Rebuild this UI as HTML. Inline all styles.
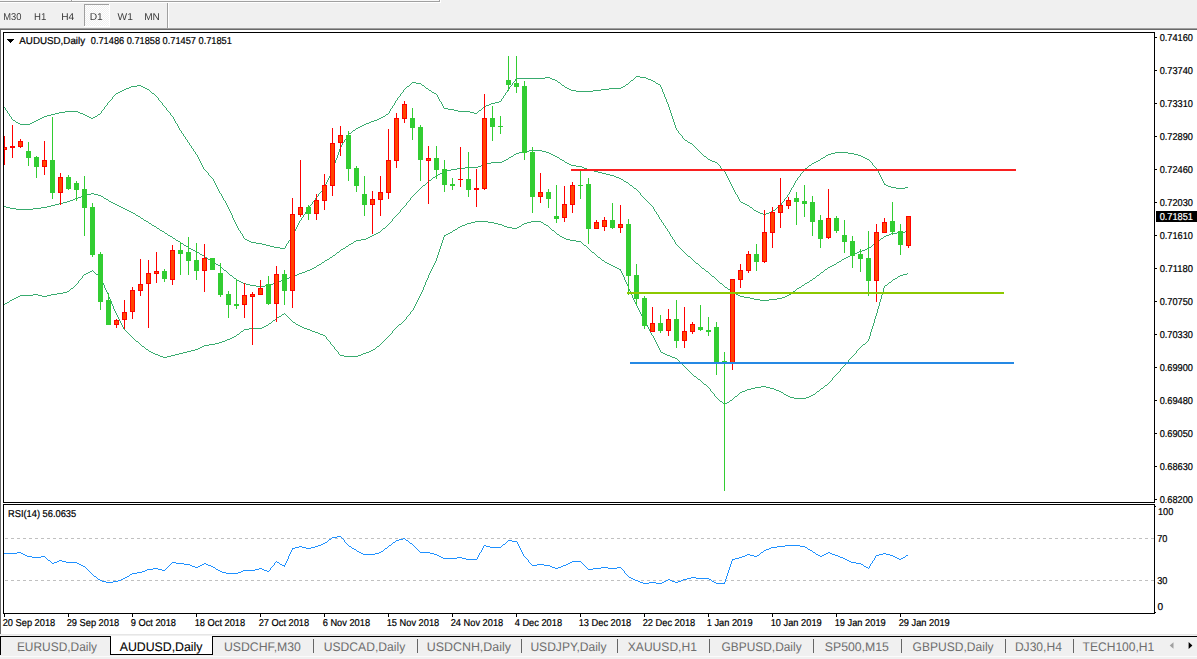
<!DOCTYPE html>
<html><head><meta charset="utf-8"><title>AUDUSD,Daily</title>
<style>html,body{margin:0;padding:0;background:#fff;overflow:hidden}body{width:1197px;height:659px;font-family:"Liberation Sans",sans-serif}svg{display:block;position:absolute;left:0;top:0}svg text{font-family:"Liberation Sans",sans-serif;text-rendering:geometricPrecision;stroke-width:0.22px;paint-order:stroke}</style></head><body>
<svg width="1197" height="659" viewBox="0 0 1197 659">
<g shape-rendering="crispEdges">
<rect x="0" y="0" width="1197" height="659" fill="#ffffff"/>
<rect x="0" y="0" width="1197" height="28" fill="#f0f0f0"/>
<rect x="0" y="28" width="1197" height="1" fill="#a0a0a0"/>
<rect x="0" y="29" width="1197" height="1" fill="#696969"/>
<rect x="0" y="30" width="1" height="605" fill="#696969"/>
<rect x="0" y="0" width="440" height="1" fill="#f8f8f8"/>
<rect x="0" y="1" width="440" height="1" fill="#a0a0a0"/>
<rect x="0" y="2" width="441" height="1" fill="#ffffff"/>
<rect x="71" y="0" width="1" height="1" fill="#a0a0a0"/>
<rect x="72" y="0" width="1" height="1" fill="#ffffff"/>
<rect x="439" y="0" width="1" height="2" fill="#a0a0a0"/>
<rect x="440" y="0" width="1" height="3" fill="#ffffff"/>
<pattern id="chk" x="0" y="0" width="2" height="2" patternUnits="userSpaceOnUse"><rect width="2" height="2" fill="#f0f0f0"/><rect width="1" height="1" fill="#fff"/><rect x="1" y="1" width="1" height="1" fill="#fff"/></pattern>
<rect x="85" y="5" width="24" height="21" fill="url(#chk)"/>
<rect x="84" y="4" width="25" height="1" fill="#a0a0a0"/>
<rect x="84" y="4" width="1" height="22" fill="#a0a0a0"/>
<rect x="109" y="4" width="1" height="23" fill="#ffffff"/>
<rect x="84" y="26" width="26" height="1" fill="#ffffff"/>
<rect x="167" y="3" width="1" height="25" fill="#a0a0a0"/>
<rect x="168" y="3" width="1" height="25" fill="#ffffff"/>
<rect x="3" y="32" width="1152" height="1" fill="#000"/>
<rect x="3" y="32" width="1" height="471" fill="#000"/>
<rect x="3" y="502" width="1152" height="1" fill="#000"/>
<rect x="1154" y="32" width="1" height="471" fill="#000"/>
<rect x="3" y="504" width="1152" height="1" fill="#000"/>
<rect x="3" y="504" width="1" height="110" fill="#000"/>
<rect x="3" y="613" width="1152" height="1" fill="#000"/>
<rect x="1154" y="504" width="1" height="110" fill="#000"/>
<rect x="1155" y="37" width="2" height="1" fill="#000"/>
<rect x="1155" y="70" width="2" height="1" fill="#000"/>
<rect x="1155" y="103" width="2" height="1" fill="#000"/>
<rect x="1155" y="136" width="2" height="1" fill="#000"/>
<rect x="1155" y="169" width="2" height="1" fill="#000"/>
<rect x="1155" y="202" width="2" height="1" fill="#000"/>
<rect x="1155" y="235" width="2" height="1" fill="#000"/>
<rect x="1155" y="268" width="2" height="1" fill="#000"/>
<rect x="1155" y="301" width="2" height="1" fill="#000"/>
<rect x="1155" y="334" width="2" height="1" fill="#000"/>
<rect x="1155" y="367" width="2" height="1" fill="#000"/>
<rect x="1155" y="400" width="2" height="1" fill="#000"/>
<rect x="1155" y="433" width="2" height="1" fill="#000"/>
<rect x="1155" y="466" width="2" height="1" fill="#000"/>
<rect x="1155" y="499" width="2" height="1" fill="#000"/>
<rect x="1155" y="506" width="1" height="1" fill="#000"/>
<rect x="1155" y="612" width="1" height="1" fill="#000"/>
<rect x="4" y="614" width="1" height="3" fill="#000"/>
<rect x="68" y="614" width="1" height="3" fill="#000"/>
<rect x="132" y="614" width="1" height="3" fill="#000"/>
<rect x="196" y="614" width="1" height="3" fill="#000"/>
<rect x="260" y="614" width="1" height="3" fill="#000"/>
<rect x="324" y="614" width="1" height="3" fill="#000"/>
<rect x="388" y="614" width="1" height="3" fill="#000"/>
<rect x="452" y="614" width="1" height="3" fill="#000"/>
<rect x="516" y="614" width="1" height="3" fill="#000"/>
<rect x="580" y="614" width="1" height="3" fill="#000"/>
<rect x="644" y="614" width="1" height="3" fill="#000"/>
<rect x="708" y="614" width="1" height="3" fill="#000"/>
<rect x="772" y="614" width="1" height="3" fill="#000"/>
<rect x="836" y="614" width="1" height="3" fill="#000"/>
<rect x="900" y="614" width="1" height="3" fill="#000"/>
<rect x="5" y="538" width="3" height="1" fill="#c0c0c0"/>
<rect x="11" y="538" width="3" height="1" fill="#c0c0c0"/>
<rect x="17" y="538" width="3" height="1" fill="#c0c0c0"/>
<rect x="23" y="538" width="3" height="1" fill="#c0c0c0"/>
<rect x="29" y="538" width="3" height="1" fill="#c0c0c0"/>
<rect x="35" y="538" width="3" height="1" fill="#c0c0c0"/>
<rect x="41" y="538" width="3" height="1" fill="#c0c0c0"/>
<rect x="47" y="538" width="3" height="1" fill="#c0c0c0"/>
<rect x="53" y="538" width="3" height="1" fill="#c0c0c0"/>
<rect x="59" y="538" width="3" height="1" fill="#c0c0c0"/>
<rect x="65" y="538" width="3" height="1" fill="#c0c0c0"/>
<rect x="71" y="538" width="3" height="1" fill="#c0c0c0"/>
<rect x="77" y="538" width="3" height="1" fill="#c0c0c0"/>
<rect x="83" y="538" width="3" height="1" fill="#c0c0c0"/>
<rect x="89" y="538" width="3" height="1" fill="#c0c0c0"/>
<rect x="95" y="538" width="3" height="1" fill="#c0c0c0"/>
<rect x="101" y="538" width="3" height="1" fill="#c0c0c0"/>
<rect x="107" y="538" width="3" height="1" fill="#c0c0c0"/>
<rect x="113" y="538" width="3" height="1" fill="#c0c0c0"/>
<rect x="119" y="538" width="3" height="1" fill="#c0c0c0"/>
<rect x="125" y="538" width="3" height="1" fill="#c0c0c0"/>
<rect x="131" y="538" width="3" height="1" fill="#c0c0c0"/>
<rect x="137" y="538" width="3" height="1" fill="#c0c0c0"/>
<rect x="143" y="538" width="3" height="1" fill="#c0c0c0"/>
<rect x="149" y="538" width="3" height="1" fill="#c0c0c0"/>
<rect x="155" y="538" width="3" height="1" fill="#c0c0c0"/>
<rect x="161" y="538" width="3" height="1" fill="#c0c0c0"/>
<rect x="167" y="538" width="3" height="1" fill="#c0c0c0"/>
<rect x="173" y="538" width="3" height="1" fill="#c0c0c0"/>
<rect x="179" y="538" width="3" height="1" fill="#c0c0c0"/>
<rect x="185" y="538" width="3" height="1" fill="#c0c0c0"/>
<rect x="191" y="538" width="3" height="1" fill="#c0c0c0"/>
<rect x="197" y="538" width="3" height="1" fill="#c0c0c0"/>
<rect x="203" y="538" width="3" height="1" fill="#c0c0c0"/>
<rect x="209" y="538" width="3" height="1" fill="#c0c0c0"/>
<rect x="215" y="538" width="3" height="1" fill="#c0c0c0"/>
<rect x="221" y="538" width="3" height="1" fill="#c0c0c0"/>
<rect x="227" y="538" width="3" height="1" fill="#c0c0c0"/>
<rect x="233" y="538" width="3" height="1" fill="#c0c0c0"/>
<rect x="239" y="538" width="3" height="1" fill="#c0c0c0"/>
<rect x="245" y="538" width="3" height="1" fill="#c0c0c0"/>
<rect x="251" y="538" width="3" height="1" fill="#c0c0c0"/>
<rect x="257" y="538" width="3" height="1" fill="#c0c0c0"/>
<rect x="263" y="538" width="3" height="1" fill="#c0c0c0"/>
<rect x="269" y="538" width="3" height="1" fill="#c0c0c0"/>
<rect x="275" y="538" width="3" height="1" fill="#c0c0c0"/>
<rect x="281" y="538" width="3" height="1" fill="#c0c0c0"/>
<rect x="287" y="538" width="3" height="1" fill="#c0c0c0"/>
<rect x="293" y="538" width="3" height="1" fill="#c0c0c0"/>
<rect x="299" y="538" width="3" height="1" fill="#c0c0c0"/>
<rect x="305" y="538" width="3" height="1" fill="#c0c0c0"/>
<rect x="311" y="538" width="3" height="1" fill="#c0c0c0"/>
<rect x="317" y="538" width="3" height="1" fill="#c0c0c0"/>
<rect x="323" y="538" width="3" height="1" fill="#c0c0c0"/>
<rect x="329" y="538" width="3" height="1" fill="#c0c0c0"/>
<rect x="335" y="538" width="3" height="1" fill="#c0c0c0"/>
<rect x="341" y="538" width="3" height="1" fill="#c0c0c0"/>
<rect x="347" y="538" width="3" height="1" fill="#c0c0c0"/>
<rect x="353" y="538" width="3" height="1" fill="#c0c0c0"/>
<rect x="359" y="538" width="3" height="1" fill="#c0c0c0"/>
<rect x="365" y="538" width="3" height="1" fill="#c0c0c0"/>
<rect x="371" y="538" width="3" height="1" fill="#c0c0c0"/>
<rect x="377" y="538" width="3" height="1" fill="#c0c0c0"/>
<rect x="383" y="538" width="3" height="1" fill="#c0c0c0"/>
<rect x="389" y="538" width="3" height="1" fill="#c0c0c0"/>
<rect x="395" y="538" width="3" height="1" fill="#c0c0c0"/>
<rect x="401" y="538" width="3" height="1" fill="#c0c0c0"/>
<rect x="407" y="538" width="3" height="1" fill="#c0c0c0"/>
<rect x="413" y="538" width="3" height="1" fill="#c0c0c0"/>
<rect x="419" y="538" width="3" height="1" fill="#c0c0c0"/>
<rect x="425" y="538" width="3" height="1" fill="#c0c0c0"/>
<rect x="431" y="538" width="3" height="1" fill="#c0c0c0"/>
<rect x="437" y="538" width="3" height="1" fill="#c0c0c0"/>
<rect x="443" y="538" width="3" height="1" fill="#c0c0c0"/>
<rect x="449" y="538" width="3" height="1" fill="#c0c0c0"/>
<rect x="455" y="538" width="3" height="1" fill="#c0c0c0"/>
<rect x="461" y="538" width="3" height="1" fill="#c0c0c0"/>
<rect x="467" y="538" width="3" height="1" fill="#c0c0c0"/>
<rect x="473" y="538" width="3" height="1" fill="#c0c0c0"/>
<rect x="479" y="538" width="3" height="1" fill="#c0c0c0"/>
<rect x="485" y="538" width="3" height="1" fill="#c0c0c0"/>
<rect x="491" y="538" width="3" height="1" fill="#c0c0c0"/>
<rect x="497" y="538" width="3" height="1" fill="#c0c0c0"/>
<rect x="503" y="538" width="3" height="1" fill="#c0c0c0"/>
<rect x="509" y="538" width="3" height="1" fill="#c0c0c0"/>
<rect x="515" y="538" width="3" height="1" fill="#c0c0c0"/>
<rect x="521" y="538" width="3" height="1" fill="#c0c0c0"/>
<rect x="527" y="538" width="3" height="1" fill="#c0c0c0"/>
<rect x="533" y="538" width="3" height="1" fill="#c0c0c0"/>
<rect x="539" y="538" width="3" height="1" fill="#c0c0c0"/>
<rect x="545" y="538" width="3" height="1" fill="#c0c0c0"/>
<rect x="551" y="538" width="3" height="1" fill="#c0c0c0"/>
<rect x="557" y="538" width="3" height="1" fill="#c0c0c0"/>
<rect x="563" y="538" width="3" height="1" fill="#c0c0c0"/>
<rect x="569" y="538" width="3" height="1" fill="#c0c0c0"/>
<rect x="575" y="538" width="3" height="1" fill="#c0c0c0"/>
<rect x="581" y="538" width="3" height="1" fill="#c0c0c0"/>
<rect x="587" y="538" width="3" height="1" fill="#c0c0c0"/>
<rect x="593" y="538" width="3" height="1" fill="#c0c0c0"/>
<rect x="599" y="538" width="3" height="1" fill="#c0c0c0"/>
<rect x="605" y="538" width="3" height="1" fill="#c0c0c0"/>
<rect x="611" y="538" width="3" height="1" fill="#c0c0c0"/>
<rect x="617" y="538" width="3" height="1" fill="#c0c0c0"/>
<rect x="623" y="538" width="3" height="1" fill="#c0c0c0"/>
<rect x="629" y="538" width="3" height="1" fill="#c0c0c0"/>
<rect x="635" y="538" width="3" height="1" fill="#c0c0c0"/>
<rect x="641" y="538" width="3" height="1" fill="#c0c0c0"/>
<rect x="647" y="538" width="3" height="1" fill="#c0c0c0"/>
<rect x="653" y="538" width="3" height="1" fill="#c0c0c0"/>
<rect x="659" y="538" width="3" height="1" fill="#c0c0c0"/>
<rect x="665" y="538" width="3" height="1" fill="#c0c0c0"/>
<rect x="671" y="538" width="3" height="1" fill="#c0c0c0"/>
<rect x="677" y="538" width="3" height="1" fill="#c0c0c0"/>
<rect x="683" y="538" width="3" height="1" fill="#c0c0c0"/>
<rect x="689" y="538" width="3" height="1" fill="#c0c0c0"/>
<rect x="695" y="538" width="3" height="1" fill="#c0c0c0"/>
<rect x="701" y="538" width="3" height="1" fill="#c0c0c0"/>
<rect x="707" y="538" width="3" height="1" fill="#c0c0c0"/>
<rect x="713" y="538" width="3" height="1" fill="#c0c0c0"/>
<rect x="719" y="538" width="3" height="1" fill="#c0c0c0"/>
<rect x="725" y="538" width="3" height="1" fill="#c0c0c0"/>
<rect x="731" y="538" width="3" height="1" fill="#c0c0c0"/>
<rect x="737" y="538" width="3" height="1" fill="#c0c0c0"/>
<rect x="743" y="538" width="3" height="1" fill="#c0c0c0"/>
<rect x="749" y="538" width="3" height="1" fill="#c0c0c0"/>
<rect x="755" y="538" width="3" height="1" fill="#c0c0c0"/>
<rect x="761" y="538" width="3" height="1" fill="#c0c0c0"/>
<rect x="767" y="538" width="3" height="1" fill="#c0c0c0"/>
<rect x="773" y="538" width="3" height="1" fill="#c0c0c0"/>
<rect x="779" y="538" width="3" height="1" fill="#c0c0c0"/>
<rect x="785" y="538" width="3" height="1" fill="#c0c0c0"/>
<rect x="791" y="538" width="3" height="1" fill="#c0c0c0"/>
<rect x="797" y="538" width="3" height="1" fill="#c0c0c0"/>
<rect x="803" y="538" width="3" height="1" fill="#c0c0c0"/>
<rect x="809" y="538" width="3" height="1" fill="#c0c0c0"/>
<rect x="815" y="538" width="3" height="1" fill="#c0c0c0"/>
<rect x="821" y="538" width="3" height="1" fill="#c0c0c0"/>
<rect x="827" y="538" width="3" height="1" fill="#c0c0c0"/>
<rect x="833" y="538" width="3" height="1" fill="#c0c0c0"/>
<rect x="839" y="538" width="3" height="1" fill="#c0c0c0"/>
<rect x="845" y="538" width="3" height="1" fill="#c0c0c0"/>
<rect x="851" y="538" width="3" height="1" fill="#c0c0c0"/>
<rect x="857" y="538" width="3" height="1" fill="#c0c0c0"/>
<rect x="863" y="538" width="3" height="1" fill="#c0c0c0"/>
<rect x="869" y="538" width="3" height="1" fill="#c0c0c0"/>
<rect x="875" y="538" width="3" height="1" fill="#c0c0c0"/>
<rect x="881" y="538" width="3" height="1" fill="#c0c0c0"/>
<rect x="887" y="538" width="3" height="1" fill="#c0c0c0"/>
<rect x="893" y="538" width="3" height="1" fill="#c0c0c0"/>
<rect x="899" y="538" width="3" height="1" fill="#c0c0c0"/>
<rect x="905" y="538" width="3" height="1" fill="#c0c0c0"/>
<rect x="911" y="538" width="3" height="1" fill="#c0c0c0"/>
<rect x="917" y="538" width="3" height="1" fill="#c0c0c0"/>
<rect x="923" y="538" width="3" height="1" fill="#c0c0c0"/>
<rect x="929" y="538" width="3" height="1" fill="#c0c0c0"/>
<rect x="935" y="538" width="3" height="1" fill="#c0c0c0"/>
<rect x="941" y="538" width="3" height="1" fill="#c0c0c0"/>
<rect x="947" y="538" width="3" height="1" fill="#c0c0c0"/>
<rect x="953" y="538" width="3" height="1" fill="#c0c0c0"/>
<rect x="959" y="538" width="3" height="1" fill="#c0c0c0"/>
<rect x="965" y="538" width="3" height="1" fill="#c0c0c0"/>
<rect x="971" y="538" width="3" height="1" fill="#c0c0c0"/>
<rect x="977" y="538" width="3" height="1" fill="#c0c0c0"/>
<rect x="983" y="538" width="3" height="1" fill="#c0c0c0"/>
<rect x="989" y="538" width="3" height="1" fill="#c0c0c0"/>
<rect x="995" y="538" width="3" height="1" fill="#c0c0c0"/>
<rect x="1001" y="538" width="3" height="1" fill="#c0c0c0"/>
<rect x="1007" y="538" width="3" height="1" fill="#c0c0c0"/>
<rect x="1013" y="538" width="3" height="1" fill="#c0c0c0"/>
<rect x="1019" y="538" width="3" height="1" fill="#c0c0c0"/>
<rect x="1025" y="538" width="3" height="1" fill="#c0c0c0"/>
<rect x="1031" y="538" width="3" height="1" fill="#c0c0c0"/>
<rect x="1037" y="538" width="3" height="1" fill="#c0c0c0"/>
<rect x="1043" y="538" width="3" height="1" fill="#c0c0c0"/>
<rect x="1049" y="538" width="3" height="1" fill="#c0c0c0"/>
<rect x="1055" y="538" width="3" height="1" fill="#c0c0c0"/>
<rect x="1061" y="538" width="3" height="1" fill="#c0c0c0"/>
<rect x="1067" y="538" width="3" height="1" fill="#c0c0c0"/>
<rect x="1073" y="538" width="3" height="1" fill="#c0c0c0"/>
<rect x="1079" y="538" width="3" height="1" fill="#c0c0c0"/>
<rect x="1085" y="538" width="3" height="1" fill="#c0c0c0"/>
<rect x="1091" y="538" width="3" height="1" fill="#c0c0c0"/>
<rect x="1097" y="538" width="3" height="1" fill="#c0c0c0"/>
<rect x="1103" y="538" width="3" height="1" fill="#c0c0c0"/>
<rect x="1109" y="538" width="3" height="1" fill="#c0c0c0"/>
<rect x="1115" y="538" width="3" height="1" fill="#c0c0c0"/>
<rect x="1121" y="538" width="3" height="1" fill="#c0c0c0"/>
<rect x="1127" y="538" width="3" height="1" fill="#c0c0c0"/>
<rect x="1133" y="538" width="3" height="1" fill="#c0c0c0"/>
<rect x="1139" y="538" width="3" height="1" fill="#c0c0c0"/>
<rect x="1145" y="538" width="3" height="1" fill="#c0c0c0"/>
<rect x="1151" y="538" width="3" height="1" fill="#c0c0c0"/>
<rect x="5" y="580" width="3" height="1" fill="#c0c0c0"/>
<rect x="11" y="580" width="3" height="1" fill="#c0c0c0"/>
<rect x="17" y="580" width="3" height="1" fill="#c0c0c0"/>
<rect x="23" y="580" width="3" height="1" fill="#c0c0c0"/>
<rect x="29" y="580" width="3" height="1" fill="#c0c0c0"/>
<rect x="35" y="580" width="3" height="1" fill="#c0c0c0"/>
<rect x="41" y="580" width="3" height="1" fill="#c0c0c0"/>
<rect x="47" y="580" width="3" height="1" fill="#c0c0c0"/>
<rect x="53" y="580" width="3" height="1" fill="#c0c0c0"/>
<rect x="59" y="580" width="3" height="1" fill="#c0c0c0"/>
<rect x="65" y="580" width="3" height="1" fill="#c0c0c0"/>
<rect x="71" y="580" width="3" height="1" fill="#c0c0c0"/>
<rect x="77" y="580" width="3" height="1" fill="#c0c0c0"/>
<rect x="83" y="580" width="3" height="1" fill="#c0c0c0"/>
<rect x="89" y="580" width="3" height="1" fill="#c0c0c0"/>
<rect x="95" y="580" width="3" height="1" fill="#c0c0c0"/>
<rect x="101" y="580" width="3" height="1" fill="#c0c0c0"/>
<rect x="107" y="580" width="3" height="1" fill="#c0c0c0"/>
<rect x="113" y="580" width="3" height="1" fill="#c0c0c0"/>
<rect x="119" y="580" width="3" height="1" fill="#c0c0c0"/>
<rect x="125" y="580" width="3" height="1" fill="#c0c0c0"/>
<rect x="131" y="580" width="3" height="1" fill="#c0c0c0"/>
<rect x="137" y="580" width="3" height="1" fill="#c0c0c0"/>
<rect x="143" y="580" width="3" height="1" fill="#c0c0c0"/>
<rect x="149" y="580" width="3" height="1" fill="#c0c0c0"/>
<rect x="155" y="580" width="3" height="1" fill="#c0c0c0"/>
<rect x="161" y="580" width="3" height="1" fill="#c0c0c0"/>
<rect x="167" y="580" width="3" height="1" fill="#c0c0c0"/>
<rect x="173" y="580" width="3" height="1" fill="#c0c0c0"/>
<rect x="179" y="580" width="3" height="1" fill="#c0c0c0"/>
<rect x="185" y="580" width="3" height="1" fill="#c0c0c0"/>
<rect x="191" y="580" width="3" height="1" fill="#c0c0c0"/>
<rect x="197" y="580" width="3" height="1" fill="#c0c0c0"/>
<rect x="203" y="580" width="3" height="1" fill="#c0c0c0"/>
<rect x="209" y="580" width="3" height="1" fill="#c0c0c0"/>
<rect x="215" y="580" width="3" height="1" fill="#c0c0c0"/>
<rect x="221" y="580" width="3" height="1" fill="#c0c0c0"/>
<rect x="227" y="580" width="3" height="1" fill="#c0c0c0"/>
<rect x="233" y="580" width="3" height="1" fill="#c0c0c0"/>
<rect x="239" y="580" width="3" height="1" fill="#c0c0c0"/>
<rect x="245" y="580" width="3" height="1" fill="#c0c0c0"/>
<rect x="251" y="580" width="3" height="1" fill="#c0c0c0"/>
<rect x="257" y="580" width="3" height="1" fill="#c0c0c0"/>
<rect x="263" y="580" width="3" height="1" fill="#c0c0c0"/>
<rect x="269" y="580" width="3" height="1" fill="#c0c0c0"/>
<rect x="275" y="580" width="3" height="1" fill="#c0c0c0"/>
<rect x="281" y="580" width="3" height="1" fill="#c0c0c0"/>
<rect x="287" y="580" width="3" height="1" fill="#c0c0c0"/>
<rect x="293" y="580" width="3" height="1" fill="#c0c0c0"/>
<rect x="299" y="580" width="3" height="1" fill="#c0c0c0"/>
<rect x="305" y="580" width="3" height="1" fill="#c0c0c0"/>
<rect x="311" y="580" width="3" height="1" fill="#c0c0c0"/>
<rect x="317" y="580" width="3" height="1" fill="#c0c0c0"/>
<rect x="323" y="580" width="3" height="1" fill="#c0c0c0"/>
<rect x="329" y="580" width="3" height="1" fill="#c0c0c0"/>
<rect x="335" y="580" width="3" height="1" fill="#c0c0c0"/>
<rect x="341" y="580" width="3" height="1" fill="#c0c0c0"/>
<rect x="347" y="580" width="3" height="1" fill="#c0c0c0"/>
<rect x="353" y="580" width="3" height="1" fill="#c0c0c0"/>
<rect x="359" y="580" width="3" height="1" fill="#c0c0c0"/>
<rect x="365" y="580" width="3" height="1" fill="#c0c0c0"/>
<rect x="371" y="580" width="3" height="1" fill="#c0c0c0"/>
<rect x="377" y="580" width="3" height="1" fill="#c0c0c0"/>
<rect x="383" y="580" width="3" height="1" fill="#c0c0c0"/>
<rect x="389" y="580" width="3" height="1" fill="#c0c0c0"/>
<rect x="395" y="580" width="3" height="1" fill="#c0c0c0"/>
<rect x="401" y="580" width="3" height="1" fill="#c0c0c0"/>
<rect x="407" y="580" width="3" height="1" fill="#c0c0c0"/>
<rect x="413" y="580" width="3" height="1" fill="#c0c0c0"/>
<rect x="419" y="580" width="3" height="1" fill="#c0c0c0"/>
<rect x="425" y="580" width="3" height="1" fill="#c0c0c0"/>
<rect x="431" y="580" width="3" height="1" fill="#c0c0c0"/>
<rect x="437" y="580" width="3" height="1" fill="#c0c0c0"/>
<rect x="443" y="580" width="3" height="1" fill="#c0c0c0"/>
<rect x="449" y="580" width="3" height="1" fill="#c0c0c0"/>
<rect x="455" y="580" width="3" height="1" fill="#c0c0c0"/>
<rect x="461" y="580" width="3" height="1" fill="#c0c0c0"/>
<rect x="467" y="580" width="3" height="1" fill="#c0c0c0"/>
<rect x="473" y="580" width="3" height="1" fill="#c0c0c0"/>
<rect x="479" y="580" width="3" height="1" fill="#c0c0c0"/>
<rect x="485" y="580" width="3" height="1" fill="#c0c0c0"/>
<rect x="491" y="580" width="3" height="1" fill="#c0c0c0"/>
<rect x="497" y="580" width="3" height="1" fill="#c0c0c0"/>
<rect x="503" y="580" width="3" height="1" fill="#c0c0c0"/>
<rect x="509" y="580" width="3" height="1" fill="#c0c0c0"/>
<rect x="515" y="580" width="3" height="1" fill="#c0c0c0"/>
<rect x="521" y="580" width="3" height="1" fill="#c0c0c0"/>
<rect x="527" y="580" width="3" height="1" fill="#c0c0c0"/>
<rect x="533" y="580" width="3" height="1" fill="#c0c0c0"/>
<rect x="539" y="580" width="3" height="1" fill="#c0c0c0"/>
<rect x="545" y="580" width="3" height="1" fill="#c0c0c0"/>
<rect x="551" y="580" width="3" height="1" fill="#c0c0c0"/>
<rect x="557" y="580" width="3" height="1" fill="#c0c0c0"/>
<rect x="563" y="580" width="3" height="1" fill="#c0c0c0"/>
<rect x="569" y="580" width="3" height="1" fill="#c0c0c0"/>
<rect x="575" y="580" width="3" height="1" fill="#c0c0c0"/>
<rect x="581" y="580" width="3" height="1" fill="#c0c0c0"/>
<rect x="587" y="580" width="3" height="1" fill="#c0c0c0"/>
<rect x="593" y="580" width="3" height="1" fill="#c0c0c0"/>
<rect x="599" y="580" width="3" height="1" fill="#c0c0c0"/>
<rect x="605" y="580" width="3" height="1" fill="#c0c0c0"/>
<rect x="611" y="580" width="3" height="1" fill="#c0c0c0"/>
<rect x="617" y="580" width="3" height="1" fill="#c0c0c0"/>
<rect x="623" y="580" width="3" height="1" fill="#c0c0c0"/>
<rect x="629" y="580" width="3" height="1" fill="#c0c0c0"/>
<rect x="635" y="580" width="3" height="1" fill="#c0c0c0"/>
<rect x="641" y="580" width="3" height="1" fill="#c0c0c0"/>
<rect x="647" y="580" width="3" height="1" fill="#c0c0c0"/>
<rect x="653" y="580" width="3" height="1" fill="#c0c0c0"/>
<rect x="659" y="580" width="3" height="1" fill="#c0c0c0"/>
<rect x="665" y="580" width="3" height="1" fill="#c0c0c0"/>
<rect x="671" y="580" width="3" height="1" fill="#c0c0c0"/>
<rect x="677" y="580" width="3" height="1" fill="#c0c0c0"/>
<rect x="683" y="580" width="3" height="1" fill="#c0c0c0"/>
<rect x="689" y="580" width="3" height="1" fill="#c0c0c0"/>
<rect x="695" y="580" width="3" height="1" fill="#c0c0c0"/>
<rect x="701" y="580" width="3" height="1" fill="#c0c0c0"/>
<rect x="707" y="580" width="3" height="1" fill="#c0c0c0"/>
<rect x="713" y="580" width="3" height="1" fill="#c0c0c0"/>
<rect x="719" y="580" width="3" height="1" fill="#c0c0c0"/>
<rect x="725" y="580" width="3" height="1" fill="#c0c0c0"/>
<rect x="731" y="580" width="3" height="1" fill="#c0c0c0"/>
<rect x="737" y="580" width="3" height="1" fill="#c0c0c0"/>
<rect x="743" y="580" width="3" height="1" fill="#c0c0c0"/>
<rect x="749" y="580" width="3" height="1" fill="#c0c0c0"/>
<rect x="755" y="580" width="3" height="1" fill="#c0c0c0"/>
<rect x="761" y="580" width="3" height="1" fill="#c0c0c0"/>
<rect x="767" y="580" width="3" height="1" fill="#c0c0c0"/>
<rect x="773" y="580" width="3" height="1" fill="#c0c0c0"/>
<rect x="779" y="580" width="3" height="1" fill="#c0c0c0"/>
<rect x="785" y="580" width="3" height="1" fill="#c0c0c0"/>
<rect x="791" y="580" width="3" height="1" fill="#c0c0c0"/>
<rect x="797" y="580" width="3" height="1" fill="#c0c0c0"/>
<rect x="803" y="580" width="3" height="1" fill="#c0c0c0"/>
<rect x="809" y="580" width="3" height="1" fill="#c0c0c0"/>
<rect x="815" y="580" width="3" height="1" fill="#c0c0c0"/>
<rect x="821" y="580" width="3" height="1" fill="#c0c0c0"/>
<rect x="827" y="580" width="3" height="1" fill="#c0c0c0"/>
<rect x="833" y="580" width="3" height="1" fill="#c0c0c0"/>
<rect x="839" y="580" width="3" height="1" fill="#c0c0c0"/>
<rect x="845" y="580" width="3" height="1" fill="#c0c0c0"/>
<rect x="851" y="580" width="3" height="1" fill="#c0c0c0"/>
<rect x="857" y="580" width="3" height="1" fill="#c0c0c0"/>
<rect x="863" y="580" width="3" height="1" fill="#c0c0c0"/>
<rect x="869" y="580" width="3" height="1" fill="#c0c0c0"/>
<rect x="875" y="580" width="3" height="1" fill="#c0c0c0"/>
<rect x="881" y="580" width="3" height="1" fill="#c0c0c0"/>
<rect x="887" y="580" width="3" height="1" fill="#c0c0c0"/>
<rect x="893" y="580" width="3" height="1" fill="#c0c0c0"/>
<rect x="899" y="580" width="3" height="1" fill="#c0c0c0"/>
<rect x="905" y="580" width="3" height="1" fill="#c0c0c0"/>
<rect x="911" y="580" width="3" height="1" fill="#c0c0c0"/>
<rect x="917" y="580" width="3" height="1" fill="#c0c0c0"/>
<rect x="923" y="580" width="3" height="1" fill="#c0c0c0"/>
<rect x="929" y="580" width="3" height="1" fill="#c0c0c0"/>
<rect x="935" y="580" width="3" height="1" fill="#c0c0c0"/>
<rect x="941" y="580" width="3" height="1" fill="#c0c0c0"/>
<rect x="947" y="580" width="3" height="1" fill="#c0c0c0"/>
<rect x="953" y="580" width="3" height="1" fill="#c0c0c0"/>
<rect x="959" y="580" width="3" height="1" fill="#c0c0c0"/>
<rect x="965" y="580" width="3" height="1" fill="#c0c0c0"/>
<rect x="971" y="580" width="3" height="1" fill="#c0c0c0"/>
<rect x="977" y="580" width="3" height="1" fill="#c0c0c0"/>
<rect x="983" y="580" width="3" height="1" fill="#c0c0c0"/>
<rect x="989" y="580" width="3" height="1" fill="#c0c0c0"/>
<rect x="995" y="580" width="3" height="1" fill="#c0c0c0"/>
<rect x="1001" y="580" width="3" height="1" fill="#c0c0c0"/>
<rect x="1007" y="580" width="3" height="1" fill="#c0c0c0"/>
<rect x="1013" y="580" width="3" height="1" fill="#c0c0c0"/>
<rect x="1019" y="580" width="3" height="1" fill="#c0c0c0"/>
<rect x="1025" y="580" width="3" height="1" fill="#c0c0c0"/>
<rect x="1031" y="580" width="3" height="1" fill="#c0c0c0"/>
<rect x="1037" y="580" width="3" height="1" fill="#c0c0c0"/>
<rect x="1043" y="580" width="3" height="1" fill="#c0c0c0"/>
<rect x="1049" y="580" width="3" height="1" fill="#c0c0c0"/>
<rect x="1055" y="580" width="3" height="1" fill="#c0c0c0"/>
<rect x="1061" y="580" width="3" height="1" fill="#c0c0c0"/>
<rect x="1067" y="580" width="3" height="1" fill="#c0c0c0"/>
<rect x="1073" y="580" width="3" height="1" fill="#c0c0c0"/>
<rect x="1079" y="580" width="3" height="1" fill="#c0c0c0"/>
<rect x="1085" y="580" width="3" height="1" fill="#c0c0c0"/>
<rect x="1091" y="580" width="3" height="1" fill="#c0c0c0"/>
<rect x="1097" y="580" width="3" height="1" fill="#c0c0c0"/>
<rect x="1103" y="580" width="3" height="1" fill="#c0c0c0"/>
<rect x="1109" y="580" width="3" height="1" fill="#c0c0c0"/>
<rect x="1115" y="580" width="3" height="1" fill="#c0c0c0"/>
<rect x="1121" y="580" width="3" height="1" fill="#c0c0c0"/>
<rect x="1127" y="580" width="3" height="1" fill="#c0c0c0"/>
<rect x="1133" y="580" width="3" height="1" fill="#c0c0c0"/>
<rect x="1139" y="580" width="3" height="1" fill="#c0c0c0"/>
<rect x="1145" y="580" width="3" height="1" fill="#c0c0c0"/>
<rect x="1151" y="580" width="3" height="1" fill="#c0c0c0"/>
</g>
<defs><clipPath id="cm"><rect x="4" y="33" width="1150" height="469"/></clipPath><clipPath id="cs"><rect x="4" y="505" width="1150" height="108"/></clipPath></defs>
<path clip-path="url(#cm)" d="M4 107h1v1h-1zM5 108h1v2h-1zM6 110h1v1h-1zM7 111h1v2h-1zM8 113h1v1h-1zM9 114h1v2h-1zM10 116h1v1h-1zM11 117h1v2h-1zM12 119h1v1h-1zM13 120h2v1h-2zM15 121h1v1h-1zM16 122h2v1h-2zM18 123h2v1h-2zM20 124h10v1h-10zM30 123h2v1h-2zM32 122h2v1h-2zM34 121h2v1h-2zM36 120h2v1h-2zM38 119h2v1h-2zM40 118h2v1h-2zM42 117h2v1h-2zM44 116h3v1h-3zM47 115h4v1h-4zM51 114h4v1h-4zM55 113h4v1h-4zM59 112h6v1h-6zM65 111h13v1h-13zM78 112h2v1h-2zM80 113h3v1h-3zM83 114h2v1h-2zM85 115h2v1h-2zM87 116h2v1h-2zM89 117h2v1h-2zM91 118h2v1h-2zM93 117h2v1h-2zM95 116h2v1h-2zM97 115h1v1h-1zM98 114h2v1h-2zM100 113h1v1h-1zM101 111h1v2h-1zM102 110h1v1h-1zM103 109h1v1h-1zM104 107h1v2h-1zM105 106h1v1h-1zM106 105h1v1h-1zM107 103h1v2h-1zM108 102h1v1h-1zM109 101h1v1h-1zM110 100h1v1h-1zM111 99h1v1h-1zM112 97h1v2h-1zM113 96h1v1h-1zM114 95h1v1h-1zM115 94h1v1h-1zM116 93h2v1h-2zM118 92h2v1h-2zM120 91h2v1h-2zM122 90h2v1h-2zM124 89h2v1h-2zM126 88h3v1h-3zM129 87h2v1h-2zM131 86h6v1h-6zM137 85h4v1h-4zM141 86h2v1h-2zM143 87h2v1h-2zM145 88h2v1h-2zM147 89h2v1h-2zM149 90h1v1h-1zM150 91h1v1h-1zM151 92h1v1h-1zM152 93h2v1h-2zM154 94h1v1h-1zM155 95h1v1h-1zM156 96h1v1h-1zM157 97h1v1h-1zM158 98h1v2h-1zM159 100h1v1h-1zM160 101h1v1h-1zM161 102h1v1h-1zM162 103h1v2h-1zM163 105h1v1h-1zM164 106h1v1h-1zM165 107h1v1h-1zM166 108h1v2h-1zM167 110h1v1h-1zM168 111h1v1h-1zM169 112h1v1h-1zM170 113h1v2h-1zM171 115h1v1h-1zM172 116h1v1h-1zM173 117h1v2h-1zM174 119h1v2h-1zM175 121h1v2h-1zM176 123h1v1h-1zM177 124h1v2h-1zM178 126h1v2h-1zM179 128h1v2h-1zM180 130h1v1h-1zM181 131h1v2h-1zM182 133h1v1h-1zM183 134h1v2h-1zM184 136h1v1h-1zM185 137h1v2h-1zM186 139h1v1h-1zM187 140h1v2h-1zM188 142h1v1h-1zM189 143h1v2h-1zM190 145h1v1h-1zM191 146h1v2h-1zM192 148h1v1h-1zM193 149h1v2h-1zM194 151h1v1h-1zM195 152h1v2h-1zM196 154h1v1h-1zM197 155h1v2h-1zM198 157h1v2h-1zM199 159h1v2h-1zM200 161h1v2h-1zM201 163h1v2h-1zM202 165h1v2h-1zM203 167h1v2h-1zM204 169h1v1h-1zM205 170h1v1h-1zM206 171h1v1h-1zM207 172h1v1h-1zM208 173h1v2h-1zM209 175h1v1h-1zM210 176h1v1h-1zM211 177h1v1h-1zM212 178h1v1h-1zM213 179h1v2h-1zM214 181h1v2h-1zM215 183h1v2h-1zM216 185h1v2h-1zM217 187h1v2h-1zM218 189h1v2h-1zM219 191h1v2h-1zM220 193h1v1h-1zM221 194h1v2h-1zM222 196h1v2h-1zM223 198h1v2h-1zM224 200h1v1h-1zM225 201h1v2h-1zM226 203h1v2h-1zM227 205h1v2h-1zM228 207h1v2h-1zM229 209h1v2h-1zM230 211h1v2h-1zM231 213h1v2h-1zM232 215h1v3h-1zM233 218h1v2h-1zM234 220h1v2h-1zM235 222h1v2h-1zM236 224h1v2h-1zM237 226h1v2h-1zM238 228h1v2h-1zM239 230h1v1h-1zM240 231h1v2h-1zM241 233h1v1h-1zM242 234h1v2h-1zM243 236h1v2h-1zM244 238h1v1h-1zM245 239h2v1h-2zM247 240h2v1h-2zM249 241h2v1h-2zM251 242h5v1h-5zM256 243h6v1h-6zM262 244h4v1h-4zM266 245h4v1h-4zM270 246h4v1h-4zM274 247h6v1h-6zM280 248h5v1h-5zM285 246h1v2h-1zM286 244h1v2h-1zM287 243h1v1h-1zM288 241h1v2h-1zM289 240h1v1h-1zM290 238h1v2h-1zM291 236h1v2h-1zM292 235h1v1h-1zM293 233h1v2h-1zM294 231h1v2h-1zM295 229h1v2h-1zM296 227h1v2h-1zM297 225h1v2h-1zM298 223h1v2h-1zM299 221h1v2h-1zM300 220h1v1h-1zM301 218h1v2h-1zM302 217h1v1h-1zM303 215h1v2h-1zM304 214h1v1h-1zM305 212h1v2h-1zM306 211h1v1h-1zM307 209h1v2h-1zM308 208h1v1h-1zM309 206h1v2h-1zM310 205h1v1h-1zM311 204h1v1h-1zM312 202h1v2h-1zM313 201h1v1h-1zM314 200h1v1h-1zM315 198h1v2h-1zM316 197h1v1h-1zM317 196h1v1h-1zM318 194h1v2h-1zM319 193h1v1h-1zM320 192h1v1h-1zM321 191h1v1h-1zM322 189h1v2h-1zM323 188h1v1h-1zM324 186h1v2h-1zM325 184h1v2h-1zM326 182h1v2h-1zM327 180h1v2h-1zM328 178h1v2h-1zM329 176h1v2h-1zM330 174h1v2h-1zM331 172h1v2h-1zM332 169h1v3h-1zM333 166h1v3h-1zM334 163h1v3h-1zM335 160h1v3h-1zM336 158h1v2h-1zM337 155h1v3h-1zM338 152h1v3h-1zM339 149h1v3h-1zM340 147h1v2h-1zM341 145h1v2h-1zM342 143h1v2h-1zM343 142h1v1h-1zM344 140h1v2h-1zM345 139h1v1h-1zM346 137h1v2h-1zM347 135h1v2h-1zM348 134h1v1h-1zM349 133h2v1h-2zM351 132h1v1h-1zM352 131h1v1h-1zM353 130h2v1h-2zM355 129h1v1h-1zM356 128h2v1h-2zM358 127h2v1h-2zM360 126h2v1h-2zM362 125h2v1h-2zM364 124h2v1h-2zM366 123h3v1h-3zM369 122h2v1h-2zM371 121h3v1h-3zM374 120h3v1h-3zM377 119h2v1h-2zM379 118h2v1h-2zM381 117h2v1h-2zM383 116h2v1h-2zM385 115h1v1h-1zM386 114h2v1h-2zM388 113h1v1h-1zM389 111h1v2h-1zM390 109h1v2h-1zM391 108h1v1h-1zM392 106h1v2h-1zM393 105h1v1h-1zM394 103h1v2h-1zM395 101h1v2h-1zM396 100h1v1h-1zM397 98h1v2h-1zM398 97h1v1h-1zM399 96h1v1h-1zM400 94h1v2h-1zM401 93h1v1h-1zM402 92h1v1h-1zM403 90h1v2h-1zM404 89h1v1h-1zM405 88h1v1h-1zM406 87h1v1h-1zM407 86h2v1h-2zM409 85h1v1h-1zM410 84h1v1h-1zM411 83h1v1h-1zM412 82h4v1h-4zM416 83h5v1h-5zM421 84h1v1h-1zM422 85h2v1h-2zM424 86h1v1h-1zM425 87h1v1h-1zM426 88h2v1h-2zM428 89h1v1h-1zM429 90h2v1h-2zM431 91h1v1h-1zM432 92h2v1h-2zM434 93h2v1h-2zM436 94h1v1h-1zM437 95h1v2h-1zM438 97h1v2h-1zM439 99h1v2h-1zM440 101h1v1h-1zM441 102h1v2h-1zM442 104h1v2h-1zM443 106h1v2h-1zM444 108h4v1h-4zM448 109h6v1h-6zM454 110h4v1h-4zM458 111h12v1h-12zM470 112h4v1h-4zM474 113h3v1h-3zM477 112h1v1h-1zM478 111h1v1h-1zM479 110h2v1h-2zM481 109h1v1h-1zM482 108h1v1h-1zM483 107h1v1h-1zM484 106h2v1h-2zM486 105h3v1h-3zM489 104h2v1h-2zM491 103h4v1h-4zM495 102h4v1h-4zM499 101h2v1h-2zM501 99h1v2h-1zM502 98h1v1h-1zM503 96h1v2h-1zM504 95h1v1h-1zM505 93h1v2h-1zM506 92h1v1h-1zM507 90h1v2h-1zM508 89h1v1h-1zM509 87h1v2h-1zM510 86h1v1h-1zM511 85h1v1h-1zM512 83h1v2h-1zM513 82h1v1h-1zM514 81h1v1h-1zM515 79h1v2h-1zM516 78h29v1h-29zM545 77h5v1h-5zM550 78h2v1h-2zM552 79h3v1h-3zM555 80h2v1h-2zM557 81h1v1h-1zM558 82h2v1h-2zM560 83h1v1h-1zM561 84h1v1h-1zM562 85h2v1h-2zM564 86h1v1h-1zM565 87h2v1h-2zM567 88h2v1h-2zM569 89h2v1h-2zM571 90h5v1h-5zM576 91h17v1h-17zM593 90h8v1h-8zM601 89h8v1h-8zM609 88h12v1h-12zM621 87h2v1h-2zM623 86h2v1h-2zM625 85h1v1h-1zM626 84h2v1h-2zM628 83h1v1h-1zM629 82h1v1h-1zM630 81h1v1h-1zM631 80h2v1h-2zM633 79h1v1h-1zM634 78h1v1h-1zM635 77h1v1h-1zM636 76h4v1h-4zM640 77h6v1h-6zM646 78h2v1h-2zM648 79h3v1h-3zM651 80h2v1h-2zM653 81h2v1h-2zM655 82h1v1h-1zM656 83h2v1h-2zM658 84h2v1h-2zM660 85h1v2h-1zM661 87h1v2h-1zM662 89h1v3h-1zM663 92h1v2h-1zM664 94h1v3h-1zM665 97h1v2h-1zM666 99h1v3h-1zM667 102h1v2h-1zM668 104h1v3h-1zM669 107h1v3h-1zM670 110h1v3h-1zM671 113h1v3h-1zM672 116h1v3h-1zM673 119h1v3h-1zM674 122h1v3h-1zM675 125h1v3h-1zM676 128h1v2h-1zM677 130h1v1h-1zM678 131h1v2h-1zM679 133h1v1h-1zM680 134h1v1h-1zM681 135h1v1h-1zM682 136h1v2h-1zM683 138h1v1h-1zM684 139h1v1h-1zM685 140h2v1h-2zM687 141h1v1h-1zM688 142h2v1h-2zM690 143h2v1h-2zM692 144h1v1h-1zM693 145h1v1h-1zM694 146h1v1h-1zM695 147h1v1h-1zM696 148h1v1h-1zM697 149h1v1h-1zM698 150h1v1h-1zM699 151h1v1h-1zM700 152h1v1h-1zM701 153h1v1h-1zM702 154h1v1h-1zM703 155h1v1h-1zM704 156h2v1h-2zM706 157h1v1h-1zM707 158h1v1h-1zM708 159h2v1h-2zM710 160h2v1h-2zM712 161h3v1h-3zM715 162h2v1h-2zM717 163h1v1h-1zM718 164h1v1h-1zM719 165h1v1h-1zM720 166h1v2h-1zM721 168h1v1h-1zM722 169h1v1h-1zM723 170h1v1h-1zM724 171h1v1h-1zM725 172h1v2h-1zM726 174h1v2h-1zM727 176h1v2h-1zM728 178h1v2h-1zM729 180h1v2h-1zM730 182h1v2h-1zM731 184h1v2h-1zM732 186h1v2h-1zM733 188h1v2h-1zM734 190h1v2h-1zM735 192h1v2h-1zM736 194h1v1h-1zM737 195h1v2h-1zM738 197h1v2h-1zM739 199h1v2h-1zM740 201h1v1h-1zM741 202h2v1h-2zM743 203h2v1h-2zM745 204h2v1h-2zM747 205h2v1h-2zM749 206h1v1h-1zM750 207h2v1h-2zM752 208h1v1h-1zM753 209h1v1h-1zM754 210h2v1h-2zM756 211h2v1h-2zM758 212h2v1h-2zM760 213h3v1h-3zM763 214h3v1h-3zM766 213h3v1h-3zM769 212h2v1h-2zM771 211h2v1h-2zM773 210h2v1h-2zM775 209h1v1h-1zM776 208h1v1h-1zM777 207h2v1h-2zM779 206h1v1h-1zM780 205h1v1h-1zM781 203h1v2h-1zM782 202h1v1h-1zM783 201h1v1h-1zM784 199h1v2h-1zM785 198h1v1h-1zM786 197h1v1h-1zM787 195h1v2h-1zM788 194h1v1h-1zM789 192h1v2h-1zM790 190h1v2h-1zM791 188h1v2h-1zM792 187h1v1h-1zM793 185h1v2h-1zM794 183h1v2h-1zM795 181h1v2h-1zM796 180h1v1h-1zM797 178h1v2h-1zM798 177h1v1h-1zM799 176h1v1h-1zM800 174h1v2h-1zM801 173h1v1h-1zM802 172h1v1h-1zM803 170h1v2h-1zM804 169h1v1h-1zM805 168h2v1h-2zM807 167h1v1h-1zM808 166h1v1h-1zM809 165h2v1h-2zM811 164h1v1h-1zM812 163h2v1h-2zM814 162h2v1h-2zM816 161h2v1h-2zM818 160h2v1h-2zM820 159h1v1h-1zM821 158h2v1h-2zM823 157h2v1h-2zM825 156h1v1h-1zM826 155h2v1h-2zM828 154h3v1h-3zM831 153h4v1h-4zM835 152h13v1h-13zM848 153h6v1h-6zM854 154h4v1h-4zM858 155h3v1h-3zM861 156h2v1h-2zM863 157h2v1h-2zM865 158h2v1h-2zM867 159h2v1h-2zM869 160h1v1h-1zM870 161h1v1h-1zM871 162h1v1h-1zM872 163h1v2h-1zM873 165h1v1h-1zM874 166h1v1h-1zM875 167h1v1h-1zM876 168h1v1h-1zM877 169h1v2h-1zM878 171h1v2h-1zM879 173h1v2h-1zM880 175h1v2h-1zM881 177h1v2h-1zM882 179h1v2h-1zM883 181h1v2h-1zM884 183h1v2h-1zM885 184h1v1h-1zM886 185h2v1h-2zM888 186h3v1h-3zM891 187h5v1h-5zM896 188h9v1h-9zM905 187h3v1h-3z" fill="#38ab6e" shape-rendering="crispEdges"/>
<path clip-path="url(#cm)" d="M4 206h2v1h-2zM6 207h4v1h-4zM10 208h6v1h-6zM16 209h17v1h-17zM33 208h8v1h-8zM41 207h6v1h-6zM47 206h4v1h-4zM51 205h4v1h-4zM55 204h4v1h-4zM59 203h4v1h-4zM63 202h4v1h-4zM67 201h3v1h-3zM70 200h3v1h-3zM73 199h2v1h-2zM75 198h3v1h-3zM78 197h3v1h-3zM81 196h2v1h-2zM83 195h4v1h-4zM87 194h4v1h-4zM91 193h3v1h-3zM94 194h4v1h-4zM98 195h3v1h-3zM101 196h2v1h-2zM103 197h1v1h-1zM104 198h2v1h-2zM106 199h2v1h-2zM108 200h1v1h-1zM109 201h2v1h-2zM111 202h2v1h-2zM113 203h2v1h-2zM115 204h2v1h-2zM117 205h2v1h-2zM119 206h2v1h-2zM121 207h2v1h-2zM123 208h2v1h-2zM125 209h2v1h-2zM127 210h2v1h-2zM129 211h2v1h-2zM131 212h2v1h-2zM133 213h2v1h-2zM135 214h1v1h-1zM136 215h2v1h-2zM138 216h2v1h-2zM140 217h1v1h-1zM141 218h2v1h-2zM143 219h1v1h-1zM144 220h2v1h-2zM146 221h2v1h-2zM148 222h1v1h-1zM149 223h2v1h-2zM151 224h1v1h-1zM152 225h2v1h-2zM154 226h2v1h-2zM156 227h1v1h-1zM157 228h2v1h-2zM159 229h1v1h-1zM160 230h2v1h-2zM162 231h2v1h-2zM164 232h1v1h-1zM165 233h2v1h-2zM167 234h1v1h-1zM168 235h2v1h-2zM170 236h2v1h-2zM172 237h1v1h-1zM173 238h2v1h-2zM175 239h1v1h-1zM176 240h2v1h-2zM178 241h2v1h-2zM180 242h1v1h-1zM181 243h2v1h-2zM183 244h1v1h-1zM184 245h2v1h-2zM186 246h2v1h-2zM188 247h1v1h-1zM189 248h2v1h-2zM191 249h2v1h-2zM193 250h2v1h-2zM195 251h2v1h-2zM197 252h2v1h-2zM199 253h1v1h-1zM200 254h2v1h-2zM202 255h2v1h-2zM204 256h1v1h-1zM205 257h2v1h-2zM207 258h1v1h-1zM208 259h2v1h-2zM210 260h2v1h-2zM212 261h1v1h-1zM213 262h2v1h-2zM215 263h1v1h-1zM216 264h2v1h-2zM218 265h2v1h-2zM220 266h1v1h-1zM221 267h1v1h-1zM222 268h1v1h-1zM223 269h1v1h-1zM224 270h2v1h-2zM226 271h1v1h-1zM227 272h1v1h-1zM228 273h1v1h-1zM229 274h1v1h-1zM230 275h2v1h-2zM232 276h1v1h-1zM233 277h1v1h-1zM234 278h2v1h-2zM236 279h1v1h-1zM237 280h2v1h-2zM239 281h2v1h-2zM241 282h2v1h-2zM243 283h3v1h-3zM246 284h4v1h-4zM250 285h6v1h-6zM256 286h9v1h-9zM265 285h5v1h-5zM270 284h3v1h-3zM273 283h2v1h-2zM275 282h3v1h-3zM278 281h3v1h-3zM281 280h2v1h-2zM283 279h3v1h-3zM286 278h3v1h-3zM289 277h2v1h-2zM291 276h3v1h-3zM294 275h3v1h-3zM297 274h2v1h-2zM299 273h3v1h-3zM302 272h3v1h-3zM305 271h2v1h-2zM307 270h3v1h-3zM310 269h2v1h-2zM312 268h2v1h-2zM314 267h2v1h-2zM316 266h1v1h-1zM317 265h2v1h-2zM319 264h2v1h-2zM321 263h1v1h-1zM322 262h2v1h-2zM324 261h1v1h-1zM325 260h2v1h-2zM327 259h2v1h-2zM329 258h1v1h-1zM330 257h2v1h-2zM332 256h1v1h-1zM333 255h2v1h-2zM335 254h1v1h-1zM336 253h1v1h-1zM337 252h2v1h-2zM339 251h1v1h-1zM340 250h1v1h-1zM341 249h2v1h-2zM343 248h2v1h-2zM345 247h1v1h-1zM346 246h2v1h-2zM348 245h1v1h-1zM349 244h2v1h-2zM351 243h2v1h-2zM353 242h1v1h-1zM354 241h2v1h-2zM356 240h5v1h-5zM361 239h5v1h-5zM366 238h2v1h-2zM368 237h2v1h-2zM370 236h2v1h-2zM372 235h2v1h-2zM374 234h2v1h-2zM376 233h2v1h-2zM378 232h2v1h-2zM380 231h1v1h-1zM381 230h1v1h-1zM382 229h1v1h-1zM383 228h2v1h-2zM385 227h1v1h-1zM386 226h1v1h-1zM387 225h1v1h-1zM388 224h1v1h-1zM389 223h1v1h-1zM390 222h1v1h-1zM391 221h1v1h-1zM392 219h1v2h-1zM393 218h1v1h-1zM394 217h1v1h-1zM395 216h1v1h-1zM396 215h1v1h-1zM397 214h1v1h-1zM398 213h1v1h-1zM399 212h1v1h-1zM400 210h1v2h-1zM401 209h1v1h-1zM402 208h1v1h-1zM403 207h1v1h-1zM404 206h1v1h-1zM405 205h1v1h-1zM406 203h1v2h-1zM407 202h1v1h-1zM408 201h1v1h-1zM409 200h1v1h-1zM410 198h1v2h-1zM411 197h1v1h-1zM412 196h1v1h-1zM413 195h1v1h-1zM414 194h1v1h-1zM415 193h1v1h-1zM416 192h1v1h-1zM417 191h1v1h-1zM418 190h1v1h-1zM419 189h1v1h-1zM420 188h1v1h-1zM421 187h1v1h-1zM422 186h1v1h-1zM423 185h2v1h-2zM425 184h1v1h-1zM426 183h1v1h-1zM427 182h1v1h-1zM428 181h1v1h-1zM429 180h2v1h-2zM431 179h1v1h-1zM432 178h1v1h-1zM433 177h2v1h-2zM435 176h1v1h-1zM436 175h2v1h-2zM438 174h2v1h-2zM440 173h2v1h-2zM442 172h2v1h-2zM444 171h3v1h-3zM447 170h4v1h-4zM451 169h6v1h-6zM457 168h8v1h-8zM465 167h13v1h-13zM478 166h3v1h-3zM481 165h2v1h-2zM483 164h4v1h-4zM487 163h4v1h-4zM491 162h11v1h-11zM502 161h2v1h-2zM504 160h2v1h-2zM506 159h2v1h-2zM508 158h1v1h-1zM509 157h2v1h-2zM511 156h2v1h-2zM513 155h1v1h-1zM514 154h2v1h-2zM516 153h3v1h-3zM519 152h4v1h-4zM523 151h6v1h-6zM529 150h13v1h-13zM542 151h4v1h-4zM546 152h3v1h-3zM549 153h2v1h-2zM551 154h2v1h-2zM553 155h2v1h-2zM555 156h2v1h-2zM557 157h2v1h-2zM559 158h1v1h-1zM560 159h2v1h-2zM562 160h2v1h-2zM564 161h1v1h-1zM565 162h2v1h-2zM567 163h2v1h-2zM569 164h2v1h-2zM571 165h5v1h-5zM576 166h6v1h-6zM582 167h2v1h-2zM584 168h3v1h-3zM587 169h3v1h-3zM590 170h4v1h-4zM594 171h4v1h-4zM598 172h4v1h-4zM602 173h4v1h-4zM606 174h4v1h-4zM610 175h4v1h-4zM614 176h2v1h-2zM616 177h3v1h-3zM619 178h2v1h-2zM621 179h2v1h-2zM623 180h1v1h-1zM624 181h2v1h-2zM626 182h2v1h-2zM628 183h1v1h-1zM629 184h1v1h-1zM630 185h2v1h-2zM632 186h1v1h-1zM633 187h1v1h-1zM634 188h2v1h-2zM636 189h1v1h-1zM637 190h1v1h-1zM638 191h1v1h-1zM639 192h1v1h-1zM640 193h1v2h-1zM641 195h1v1h-1zM642 196h1v1h-1zM643 197h1v1h-1zM644 198h1v1h-1zM645 199h1v1h-1zM646 200h1v1h-1zM647 201h1v1h-1zM648 202h1v1h-1zM649 203h1v1h-1zM650 204h1v1h-1zM651 205h1v1h-1zM652 206h1v1h-1zM653 207h1v2h-1zM654 209h1v2h-1zM655 211h1v1h-1zM656 212h1v2h-1zM657 214h1v1h-1zM658 215h1v2h-1zM659 217h1v2h-1zM660 219h1v1h-1zM661 220h1v2h-1zM662 222h1v1h-1zM663 223h1v2h-1zM664 225h1v1h-1zM665 226h1v2h-1zM666 228h1v1h-1zM667 229h1v2h-1zM668 231h1v1h-1zM669 232h1v2h-1zM670 234h1v2h-1zM671 236h1v1h-1zM672 237h1v2h-1zM673 239h1v1h-1zM674 240h1v2h-1zM675 242h1v2h-1zM676 244h1v1h-1zM677 245h1v1h-1zM678 246h1v1h-1zM679 247h1v1h-1zM680 248h1v1h-1zM681 249h1v1h-1zM682 250h1v1h-1zM683 251h1v1h-1zM684 252h1v1h-1zM685 253h1v1h-1zM686 254h1v1h-1zM687 255h1v1h-1zM688 256h2v1h-2zM690 257h1v1h-1zM691 258h1v1h-1zM692 259h1v1h-1zM693 260h1v1h-1zM694 261h1v1h-1zM695 262h1v1h-1zM696 263h2v1h-2zM698 264h1v1h-1zM699 265h1v1h-1zM700 266h1v1h-1zM701 267h1v1h-1zM702 268h2v1h-2zM704 269h1v1h-1zM705 270h1v1h-1zM706 271h2v1h-2zM708 272h1v1h-1zM709 273h1v1h-1zM710 274h1v1h-1zM711 275h1v1h-1zM712 276h2v1h-2zM714 277h1v1h-1zM715 278h1v1h-1zM716 279h1v1h-1zM717 280h1v1h-1zM718 281h1v1h-1zM719 282h1v1h-1zM720 283h2v1h-2zM722 284h1v1h-1zM723 285h1v1h-1zM724 286h1v1h-1zM725 287h2v1h-2zM727 288h1v1h-1zM728 289h2v1h-2zM730 290h2v1h-2zM732 291h1v1h-1zM733 292h2v1h-2zM735 293h1v1h-1zM736 294h2v1h-2zM738 295h2v1h-2zM740 296h4v1h-4zM744 297h6v1h-6zM750 298h4v1h-4zM754 299h6v1h-6zM760 300h9v1h-9zM769 299h8v1h-8zM777 298h5v1h-5zM782 297h3v1h-3zM785 296h2v1h-2zM787 295h2v1h-2zM789 294h2v1h-2zM791 293h1v1h-1zM792 292h1v1h-1zM793 291h2v1h-2zM795 290h1v1h-1zM796 289h1v1h-1zM797 288h2v1h-2zM799 287h2v1h-2zM801 286h1v1h-1zM802 285h2v1h-2zM804 284h1v1h-1zM805 283h2v1h-2zM807 282h2v1h-2zM809 281h1v1h-1zM810 280h2v1h-2zM812 279h1v1h-1zM813 278h2v1h-2zM815 277h1v1h-1zM816 276h1v1h-1zM817 275h2v1h-2zM819 274h1v1h-1zM820 273h1v1h-1zM821 272h2v1h-2zM823 271h1v1h-1zM824 270h1v1h-1zM825 269h2v1h-2zM827 268h1v1h-1zM828 267h2v1h-2zM830 266h2v1h-2zM832 265h2v1h-2zM834 264h2v1h-2zM836 263h1v1h-1zM837 262h2v1h-2zM839 261h2v1h-2zM841 260h1v1h-1zM842 259h2v1h-2zM844 258h2v1h-2zM846 257h2v1h-2zM848 256h2v1h-2zM850 255h2v1h-2zM852 254h2v1h-2zM854 253h3v1h-3zM857 252h2v1h-2zM859 251h3v1h-3zM862 250h3v1h-3zM865 249h2v1h-2zM867 248h2v1h-2zM869 247h2v1h-2zM871 246h1v1h-1zM872 245h1v1h-1zM873 244h2v1h-2zM875 243h1v1h-1zM876 242h1v1h-1zM877 241h2v1h-2zM879 240h1v1h-1zM880 239h1v1h-1zM881 238h2v1h-2zM883 237h1v1h-1zM884 236h2v1h-2zM886 235h3v1h-3zM889 234h2v1h-2zM891 233h6v1h-6zM897 232h8v1h-8zM905 231h3v1h-3z" fill="#38ab6e" shape-rendering="crispEdges"/>
<path clip-path="url(#cm)" d="M4 304h1v1h-1zM5 303h2v1h-2zM7 302h2v1h-2zM9 301h1v1h-1zM10 300h2v1h-2zM12 299h2v1h-2zM14 298h2v1h-2zM16 297h2v1h-2zM18 296h2v1h-2zM20 295h13v1h-13zM33 294h5v1h-5zM38 295h4v1h-4zM42 296h5v1h-5zM47 295h4v1h-4zM51 294h6v1h-6zM57 293h6v1h-6zM63 292h4v1h-4zM67 291h2v1h-2zM69 290h1v1h-1zM70 289h1v1h-1zM71 288h2v1h-2zM73 287h1v1h-1zM74 286h1v1h-1zM75 285h1v1h-1zM76 284h1v1h-1zM77 283h1v1h-1zM78 281h1v2h-1zM79 280h1v1h-1zM80 279h1v1h-1zM81 278h1v1h-1zM82 276h1v2h-1zM83 275h1v1h-1zM84 274h2v1h-2zM86 273h2v1h-2zM88 272h2v1h-2zM90 271h2v1h-2zM92 270h1v1h-1zM93 271h1v1h-1zM94 272h1v1h-1zM95 273h1v1h-1zM96 274h2v1h-2zM98 275h1v1h-1zM99 276h1v1h-1zM100 277h1v2h-1zM101 279h1v2h-1zM102 281h1v2h-1zM103 283h1v2h-1zM104 285h1v3h-1zM105 288h1v2h-1zM106 290h1v2h-1zM107 292h1v2h-1zM108 294h1v3h-1zM109 297h1v2h-1zM110 299h1v2h-1zM111 301h1v3h-1zM112 304h1v2h-1zM113 306h1v3h-1zM114 309h1v2h-1zM115 311h1v2h-1zM116 313h1v2h-1zM117 315h1v2h-1zM118 317h1v2h-1zM119 319h1v2h-1zM120 321h1v2h-1zM121 323h1v2h-1zM122 325h1v2h-1zM123 327h1v2h-1zM124 329h1v1h-1zM125 330h1v1h-1zM126 331h1v1h-1zM127 332h1v1h-1zM128 333h1v1h-1zM129 334h1v1h-1zM130 335h1v1h-1zM131 336h1v1h-1zM132 337h1v1h-1zM133 338h1v1h-1zM134 339h1v1h-1zM135 340h1v1h-1zM136 341h2v1h-2zM138 342h1v1h-1zM139 343h1v1h-1zM140 344h1v1h-1zM141 345h1v1h-1zM142 346h2v1h-2zM144 347h1v1h-1zM145 348h1v1h-1zM146 349h2v1h-2zM148 350h1v1h-1zM149 351h2v1h-2zM151 352h2v1h-2zM153 353h2v1h-2zM155 354h3v1h-3zM158 355h2v1h-2zM160 356h3v1h-3zM163 357h4v1h-4zM167 356h4v1h-4zM171 355h4v1h-4zM175 354h4v1h-4zM179 353h4v1h-4zM183 352h4v1h-4zM187 351h4v1h-4zM191 350h4v1h-4zM195 349h3v1h-3zM198 348h2v1h-2zM200 347h2v1h-2zM202 346h2v1h-2zM204 345h5v1h-5zM209 344h6v1h-6zM215 343h4v1h-4zM219 342h3v1h-3zM222 341h3v1h-3zM225 340h2v1h-2zM227 339h3v1h-3zM230 338h2v1h-2zM232 337h2v1h-2zM234 336h2v1h-2zM236 335h1v1h-1zM237 334h2v1h-2zM239 333h1v1h-1zM240 332h1v1h-1zM241 331h2v1h-2zM243 330h1v1h-1zM244 329h5v1h-5zM249 328h13v1h-13zM262 327h2v1h-2zM264 326h2v1h-2zM266 325h2v1h-2zM268 324h1v1h-1zM269 323h2v1h-2zM271 322h1v1h-1zM272 321h1v1h-1zM273 320h2v1h-2zM275 319h1v1h-1zM276 318h1v1h-1zM277 317h2v1h-2zM279 316h2v1h-2zM281 315h1v1h-1zM282 314h2v1h-2zM284 313h1v1h-1zM285 314h1v1h-1zM286 315h1v1h-1zM287 316h1v1h-1zM288 317h1v1h-1zM289 318h1v1h-1zM290 319h1v1h-1zM291 320h1v1h-1zM292 321h1v1h-1zM293 322h2v1h-2zM295 323h1v1h-1zM296 324h2v1h-2zM298 325h2v1h-2zM300 326h2v1h-2zM302 327h2v1h-2zM304 328h3v1h-3zM307 329h3v1h-3zM310 330h2v1h-2zM312 331h3v1h-3zM315 332h3v1h-3zM318 333h2v1h-2zM320 334h3v1h-3zM323 335h2v1h-2zM325 336h1v1h-1zM326 337h1v2h-1zM327 339h1v1h-1zM328 340h1v1h-1zM329 341h1v1h-1zM330 342h1v2h-1zM331 344h1v1h-1zM332 345h1v1h-1zM333 346h1v1h-1zM334 347h1v2h-1zM335 349h1v1h-1zM336 350h1v1h-1zM337 351h1v1h-1zM338 352h1v2h-1zM339 354h1v1h-1zM340 355h4v1h-4zM344 356h14v1h-14zM358 355h3v1h-3zM361 354h2v1h-2zM363 353h3v1h-3zM366 352h3v1h-3zM369 351h2v1h-2zM371 350h2v1h-2zM373 349h2v1h-2zM375 348h1v1h-1zM376 347h1v1h-1zM377 346h2v1h-2zM379 345h1v1h-1zM380 344h1v1h-1zM381 343h1v1h-1zM382 342h1v1h-1zM383 341h1v1h-1zM384 340h1v1h-1zM385 339h1v1h-1zM386 338h1v1h-1zM387 337h1v1h-1zM388 336h1v1h-1zM389 335h1v1h-1zM390 334h1v1h-1zM391 333h1v1h-1zM392 331h1v2h-1zM393 330h1v1h-1zM394 329h1v1h-1zM395 328h1v1h-1zM396 327h1v1h-1zM397 326h1v1h-1zM398 325h1v1h-1zM399 324h2v1h-2zM401 323h1v1h-1zM402 322h1v1h-1zM403 321h1v1h-1zM404 320h1v1h-1zM405 319h1v1h-1zM406 317h1v2h-1zM407 316h1v1h-1zM408 315h1v1h-1zM409 314h1v1h-1zM410 312h1v2h-1zM411 311h1v1h-1zM412 310h1v1h-1zM413 308h1v2h-1zM414 306h1v2h-1zM415 304h1v2h-1zM416 302h1v2h-1zM417 300h1v2h-1zM418 298h1v2h-1zM419 296h1v2h-1zM420 294h1v2h-1zM421 292h1v2h-1zM422 290h1v2h-1zM423 287h1v3h-1zM424 285h1v2h-1zM425 282h1v3h-1zM426 280h1v2h-1zM427 278h1v2h-1zM428 275h1v3h-1zM429 273h1v2h-1zM430 271h1v2h-1zM431 269h1v2h-1zM432 267h1v2h-1zM433 265h1v2h-1zM434 263h1v2h-1zM435 261h1v2h-1zM436 258h1v3h-1zM437 255h1v3h-1zM438 252h1v3h-1zM439 249h1v3h-1zM440 246h1v3h-1zM441 243h1v3h-1zM442 240h1v3h-1zM443 237h1v3h-1zM444 235h1v2h-1zM445 235h1v1h-1zM446 234h2v1h-2zM448 233h2v1h-2zM450 232h2v1h-2zM452 231h1v1h-1zM453 230h2v1h-2zM455 229h2v1h-2zM457 228h1v1h-1zM458 227h2v1h-2zM460 226h2v1h-2zM462 225h3v1h-3zM465 224h2v1h-2zM467 223h4v1h-4zM471 222h4v1h-4zM475 221h13v1h-13zM488 222h6v1h-6zM494 223h4v1h-4zM498 224h4v1h-4zM502 225h2v1h-2zM504 226h3v1h-3zM507 227h5v1h-5zM512 228h5v1h-5zM517 227h2v1h-2zM519 226h2v1h-2zM521 225h1v1h-1zM522 224h2v1h-2zM524 223h3v1h-3zM527 222h4v1h-4zM531 221h10v1h-10zM541 222h2v1h-2zM543 223h1v1h-1zM544 224h2v1h-2zM546 225h2v1h-2zM548 226h1v1h-1zM549 227h1v1h-1zM550 228h1v1h-1zM551 229h1v1h-1zM552 230h2v1h-2zM554 231h1v1h-1zM555 232h1v1h-1zM556 233h1v1h-1zM557 234h2v1h-2zM559 235h1v1h-1zM560 236h2v1h-2zM562 237h2v1h-2zM564 238h2v1h-2zM566 239h4v1h-4zM570 240h6v1h-6zM576 241h5v1h-5zM581 242h1v1h-1zM582 243h1v1h-1zM583 244h1v1h-1zM584 245h2v1h-2zM586 246h1v1h-1zM587 247h1v1h-1zM588 248h1v1h-1zM589 249h1v1h-1zM590 250h1v1h-1zM591 251h1v1h-1zM592 252h2v1h-2zM594 253h1v1h-1zM595 254h1v1h-1zM596 255h1v1h-1zM597 256h1v1h-1zM598 257h2v1h-2zM600 258h1v1h-1zM601 259h1v1h-1zM602 260h2v1h-2zM604 261h1v1h-1zM605 262h2v1h-2zM607 263h2v1h-2zM609 264h2v1h-2zM611 265h2v1h-2zM613 266h2v1h-2zM615 267h2v1h-2zM617 268h2v1h-2zM619 269h1v1h-1zM620 269h1v2h-1zM621 271h1v2h-1zM622 273h1v2h-1zM623 275h1v2h-1zM624 277h1v3h-1zM625 280h1v2h-1zM626 282h1v2h-1zM627 284h1v2h-1zM628 286h1v3h-1zM629 289h1v2h-1zM630 291h1v2h-1zM631 293h1v2h-1zM632 295h1v3h-1zM633 298h1v2h-1zM634 300h1v2h-1zM635 302h1v2h-1zM636 304h1v2h-1zM637 306h1v2h-1zM638 308h1v2h-1zM639 310h1v2h-1zM640 312h1v2h-1zM641 314h1v2h-1zM642 316h1v2h-1zM643 318h1v2h-1zM644 320h1v1h-1zM645 321h1v2h-1zM646 323h1v2h-1zM647 325h1v2h-1zM648 327h1v2h-1zM649 329h1v2h-1zM650 331h1v2h-1zM651 333h1v2h-1zM652 335h1v1h-1zM653 336h1v2h-1zM654 338h1v2h-1zM655 340h1v2h-1zM656 342h1v2h-1zM657 344h1v2h-1zM658 346h1v2h-1zM659 348h1v2h-1zM660 350h1v2h-1zM661 352h2v1h-2zM663 353h2v1h-2zM665 354h2v1h-2zM667 355h3v1h-3zM670 356h2v1h-2zM672 357h3v1h-3zM675 358h2v1h-2zM677 359h1v1h-1zM678 360h1v1h-1zM679 361h1v1h-1zM680 362h1v1h-1zM681 363h1v1h-1zM682 364h1v1h-1zM683 365h1v1h-1zM684 366h1v1h-1zM685 367h1v1h-1zM686 368h1v1h-1zM687 369h1v1h-1zM688 370h1v1h-1zM689 371h1v1h-1zM690 372h1v1h-1zM691 373h1v1h-1zM692 374h1v1h-1zM693 375h1v1h-1zM694 376h2v1h-2zM696 377h1v1h-1zM697 378h1v1h-1zM698 379h2v1h-2zM700 380h1v1h-1zM701 381h1v1h-1zM702 382h1v1h-1zM703 383h1v1h-1zM704 384h2v1h-2zM706 385h1v1h-1zM707 386h1v1h-1zM708 387h1v1h-1zM709 388h1v1h-1zM710 389h1v2h-1zM711 391h1v1h-1zM712 392h1v1h-1zM713 393h1v1h-1zM714 394h1v2h-1zM715 396h1v1h-1zM716 397h1v1h-1zM717 398h1v1h-1zM718 399h1v1h-1zM719 400h1v1h-1zM720 401h2v1h-2zM722 402h1v1h-1zM723 403h1v1h-1zM724 404h1v1h-1zM725 403h2v1h-2zM727 402h2v1h-2zM729 401h1v1h-1zM730 400h2v1h-2zM732 399h1v1h-1zM733 398h1v1h-1zM734 397h1v1h-1zM735 396h2v1h-2zM737 395h1v1h-1zM738 394h1v1h-1zM739 393h1v1h-1zM740 392h2v1h-2zM742 391h3v1h-3zM745 390h2v1h-2zM747 389h4v1h-4zM751 388h4v1h-4zM755 387h6v1h-6zM761 386h5v1h-5zM766 387h4v1h-4zM770 388h4v1h-4zM774 389h2v1h-2zM776 390h3v1h-3zM779 391h2v1h-2zM781 392h2v1h-2zM783 393h1v1h-1zM784 394h2v1h-2zM786 395h2v1h-2zM788 396h2v1h-2zM790 397h4v1h-4zM794 398h12v1h-12zM806 397h3v1h-3zM809 396h2v1h-2zM811 395h2v1h-2zM813 394h2v1h-2zM815 393h1v1h-1zM816 392h1v1h-1zM817 391h2v1h-2zM819 390h1v1h-1zM820 389h1v1h-1zM821 388h2v1h-2zM823 387h1v1h-1zM824 386h1v1h-1zM825 385h2v1h-2zM827 384h1v1h-1zM828 383h1v1h-1zM829 382h1v1h-1zM830 381h1v1h-1zM831 380h1v1h-1zM832 378h1v2h-1zM833 377h1v1h-1zM834 376h1v1h-1zM835 375h1v1h-1zM836 374h1v1h-1zM837 373h1v1h-1zM838 372h1v1h-1zM839 371h1v1h-1zM840 369h1v2h-1zM841 368h1v1h-1zM842 367h1v1h-1zM843 366h1v1h-1zM844 365h1v1h-1zM845 364h1v1h-1zM846 363h1v1h-1zM847 362h1v1h-1zM848 360h1v2h-1zM849 359h1v1h-1zM850 358h1v1h-1zM851 357h1v1h-1zM852 356h1v1h-1zM853 355h1v1h-1zM854 354h1v1h-1zM855 353h1v1h-1zM856 351h1v2h-1zM857 350h1v1h-1zM858 349h1v1h-1zM859 348h1v1h-1zM860 347h1v1h-1zM861 346h1v1h-1zM862 345h1v1h-1zM863 344h2v1h-2zM865 343h1v1h-1zM866 342h1v1h-1zM867 341h1v1h-1zM868 339h1v2h-1zM869 336h1v3h-1zM870 332h1v4h-1zM871 329h1v3h-1zM872 326h1v3h-1zM873 323h1v3h-1zM874 319h1v4h-1zM875 316h1v3h-1zM876 313h1v3h-1zM877 309h1v4h-1zM878 306h1v3h-1zM879 302h1v4h-1zM880 299h1v3h-1zM881 295h1v4h-1zM882 292h1v3h-1zM883 288h1v4h-1zM884 286h1v2h-1zM885 285h2v1h-2zM887 284h1v1h-1zM888 283h1v1h-1zM889 282h2v1h-2zM891 281h1v1h-1zM892 280h1v1h-1zM893 279h2v1h-2zM895 278h2v1h-2zM897 277h1v1h-1zM898 276h2v1h-2zM900 275h3v1h-3zM903 274h4v1h-4zM907 273h1v1h-1z" fill="#38ab6e" shape-rendering="crispEdges"/>
<g shape-rendering="crispEdges" clip-path="url(#cm)">
<rect x="4" y="136" width="1" height="29" fill="#ff0000"/>
<rect x="2" y="147" width="5" height="3" fill="#ff0000"/>
<rect x="3" y="148" width="3" height="1" fill="#ff4500"/>
<rect x="12" y="125" width="1" height="33" fill="#ff0000"/>
<rect x="10" y="146" width="5" height="2" fill="#ff0000"/>
<rect x="20" y="139" width="1" height="9" fill="#ff0000"/>
<rect x="18" y="141" width="5" height="6" fill="#ff0000"/>
<rect x="19" y="142" width="3" height="4" fill="#ff4500"/>
<rect x="28" y="142" width="1" height="24" fill="#32cd32"/>
<rect x="26" y="151" width="5" height="7" fill="#32cd32"/>
<rect x="36" y="156" width="1" height="22" fill="#32cd32"/>
<rect x="34" y="157" width="5" height="10" fill="#32cd32"/>
<rect x="44" y="141" width="1" height="34" fill="#ff0000"/>
<rect x="42" y="160" width="5" height="7" fill="#ff0000"/>
<rect x="43" y="161" width="3" height="5" fill="#ff4500"/>
<rect x="52" y="117" width="1" height="82" fill="#32cd32"/>
<rect x="50" y="160" width="5" height="33" fill="#32cd32"/>
<rect x="60" y="173" width="1" height="32" fill="#ff0000"/>
<rect x="58" y="177" width="5" height="16" fill="#ff0000"/>
<rect x="59" y="178" width="3" height="14" fill="#ff4500"/>
<rect x="68" y="175" width="1" height="15" fill="#32cd32"/>
<rect x="66" y="177" width="5" height="12" fill="#32cd32"/>
<rect x="76" y="181" width="1" height="20" fill="#32cd32"/>
<rect x="74" y="183" width="5" height="7" fill="#32cd32"/>
<rect x="84" y="176" width="1" height="60" fill="#32cd32"/>
<rect x="82" y="189" width="5" height="19" fill="#32cd32"/>
<rect x="92" y="203" width="1" height="54" fill="#32cd32"/>
<rect x="90" y="207" width="5" height="48" fill="#32cd32"/>
<rect x="100" y="252" width="1" height="58" fill="#32cd32"/>
<rect x="98" y="254" width="5" height="48" fill="#32cd32"/>
<rect x="108" y="293" width="1" height="32" fill="#32cd32"/>
<rect x="106" y="300" width="5" height="25" fill="#32cd32"/>
<rect x="116" y="319" width="1" height="9" fill="#ff0000"/>
<rect x="114" y="320" width="5" height="5" fill="#ff0000"/>
<rect x="115" y="321" width="3" height="3" fill="#ff4500"/>
<rect x="124" y="300" width="1" height="29" fill="#ff0000"/>
<rect x="122" y="312" width="5" height="8" fill="#ff0000"/>
<rect x="123" y="313" width="3" height="6" fill="#ff4500"/>
<rect x="132" y="287" width="1" height="32" fill="#ff0000"/>
<rect x="130" y="290" width="5" height="22" fill="#ff0000"/>
<rect x="131" y="291" width="3" height="20" fill="#ff4500"/>
<rect x="140" y="259" width="1" height="37" fill="#ff0000"/>
<rect x="138" y="284" width="5" height="7" fill="#ff0000"/>
<rect x="139" y="285" width="3" height="5" fill="#ff4500"/>
<rect x="148" y="260" width="1" height="68" fill="#ff0000"/>
<rect x="146" y="273" width="5" height="11" fill="#ff0000"/>
<rect x="147" y="274" width="3" height="9" fill="#ff4500"/>
<rect x="156" y="252" width="1" height="31" fill="#ff0000"/>
<rect x="154" y="271" width="5" height="3" fill="#ff0000"/>
<rect x="155" y="272" width="3" height="1" fill="#ff4500"/>
<rect x="164" y="269" width="1" height="13" fill="#32cd32"/>
<rect x="162" y="271" width="5" height="8" fill="#32cd32"/>
<rect x="172" y="245" width="1" height="40" fill="#ff0000"/>
<rect x="170" y="250" width="5" height="30" fill="#ff0000"/>
<rect x="171" y="251" width="3" height="28" fill="#ff4500"/>
<rect x="180" y="242" width="1" height="33" fill="#32cd32"/>
<rect x="178" y="250" width="5" height="4" fill="#32cd32"/>
<rect x="188" y="237" width="1" height="38" fill="#32cd32"/>
<rect x="186" y="252" width="5" height="9" fill="#32cd32"/>
<rect x="196" y="243" width="1" height="37" fill="#32cd32"/>
<rect x="194" y="260" width="5" height="11" fill="#32cd32"/>
<rect x="204" y="244" width="1" height="48" fill="#ff0000"/>
<rect x="202" y="258" width="5" height="13" fill="#ff0000"/>
<rect x="203" y="259" width="3" height="11" fill="#ff4500"/>
<rect x="212" y="258" width="1" height="12" fill="#32cd32"/>
<rect x="210" y="258" width="5" height="12" fill="#32cd32"/>
<rect x="220" y="263" width="1" height="34" fill="#32cd32"/>
<rect x="218" y="273" width="5" height="22" fill="#32cd32"/>
<rect x="228" y="291" width="1" height="27" fill="#32cd32"/>
<rect x="226" y="294" width="5" height="11" fill="#32cd32"/>
<rect x="236" y="279" width="1" height="30" fill="#32cd32"/>
<rect x="234" y="304" width="5" height="2" fill="#32cd32"/>
<rect x="244" y="283" width="1" height="35" fill="#ff0000"/>
<rect x="242" y="295" width="5" height="10" fill="#ff0000"/>
<rect x="243" y="296" width="3" height="8" fill="#ff4500"/>
<rect x="252" y="292" width="1" height="53" fill="#ff0000"/>
<rect x="250" y="294" width="5" height="3" fill="#ff0000"/>
<rect x="251" y="295" width="3" height="1" fill="#ff4500"/>
<rect x="260" y="280" width="1" height="15" fill="#ff0000"/>
<rect x="258" y="288" width="5" height="7" fill="#ff0000"/>
<rect x="259" y="289" width="3" height="5" fill="#ff4500"/>
<rect x="268" y="276" width="1" height="29" fill="#32cd32"/>
<rect x="266" y="284" width="5" height="20" fill="#32cd32"/>
<rect x="276" y="266" width="1" height="56" fill="#ff0000"/>
<rect x="274" y="274" width="5" height="30" fill="#ff0000"/>
<rect x="275" y="275" width="3" height="28" fill="#ff4500"/>
<rect x="284" y="270" width="1" height="35" fill="#32cd32"/>
<rect x="282" y="274" width="5" height="17" fill="#32cd32"/>
<rect x="292" y="198" width="1" height="110" fill="#ff0000"/>
<rect x="290" y="214" width="5" height="77" fill="#ff0000"/>
<rect x="291" y="215" width="3" height="75" fill="#ff4500"/>
<rect x="300" y="160" width="1" height="57" fill="#ff0000"/>
<rect x="298" y="207" width="5" height="8" fill="#ff0000"/>
<rect x="299" y="208" width="3" height="6" fill="#ff4500"/>
<rect x="308" y="205" width="1" height="15" fill="#32cd32"/>
<rect x="306" y="207" width="5" height="7" fill="#32cd32"/>
<rect x="316" y="194" width="1" height="26" fill="#ff0000"/>
<rect x="314" y="200" width="5" height="14" fill="#ff0000"/>
<rect x="315" y="201" width="3" height="12" fill="#ff4500"/>
<rect x="324" y="174" width="1" height="36" fill="#ff0000"/>
<rect x="322" y="185" width="5" height="16" fill="#ff0000"/>
<rect x="323" y="186" width="3" height="14" fill="#ff4500"/>
<rect x="332" y="128" width="1" height="68" fill="#ff0000"/>
<rect x="330" y="143" width="5" height="43" fill="#ff0000"/>
<rect x="331" y="144" width="3" height="41" fill="#ff4500"/>
<rect x="340" y="126" width="1" height="30" fill="#ff0000"/>
<rect x="338" y="135" width="5" height="8" fill="#ff0000"/>
<rect x="339" y="136" width="3" height="6" fill="#ff4500"/>
<rect x="348" y="131" width="1" height="50" fill="#32cd32"/>
<rect x="346" y="135" width="5" height="34" fill="#32cd32"/>
<rect x="356" y="166" width="1" height="26" fill="#32cd32"/>
<rect x="354" y="168" width="5" height="18" fill="#32cd32"/>
<rect x="364" y="176" width="1" height="40" fill="#32cd32"/>
<rect x="362" y="194" width="5" height="11" fill="#32cd32"/>
<rect x="372" y="191" width="1" height="43" fill="#ff0000"/>
<rect x="370" y="199" width="5" height="6" fill="#ff0000"/>
<rect x="371" y="200" width="3" height="4" fill="#ff4500"/>
<rect x="380" y="176" width="1" height="40" fill="#ff0000"/>
<rect x="378" y="192" width="5" height="8" fill="#ff0000"/>
<rect x="379" y="193" width="3" height="6" fill="#ff4500"/>
<rect x="388" y="129" width="1" height="70" fill="#ff0000"/>
<rect x="386" y="160" width="5" height="33" fill="#ff0000"/>
<rect x="387" y="161" width="3" height="31" fill="#ff4500"/>
<rect x="396" y="113" width="1" height="55" fill="#ff0000"/>
<rect x="394" y="118" width="5" height="43" fill="#ff0000"/>
<rect x="395" y="119" width="3" height="41" fill="#ff4500"/>
<rect x="404" y="101" width="1" height="22" fill="#ff0000"/>
<rect x="402" y="104" width="5" height="15" fill="#ff0000"/>
<rect x="403" y="105" width="3" height="13" fill="#ff4500"/>
<rect x="412" y="108" width="1" height="32" fill="#32cd32"/>
<rect x="410" y="118" width="5" height="10" fill="#32cd32"/>
<rect x="420" y="125" width="1" height="56" fill="#32cd32"/>
<rect x="418" y="127" width="5" height="33" fill="#32cd32"/>
<rect x="428" y="146" width="1" height="58" fill="#ff0000"/>
<rect x="426" y="158" width="5" height="3" fill="#ff0000"/>
<rect x="427" y="159" width="3" height="1" fill="#ff4500"/>
<rect x="436" y="146" width="1" height="33" fill="#32cd32"/>
<rect x="434" y="158" width="5" height="12" fill="#32cd32"/>
<rect x="444" y="160" width="1" height="32" fill="#32cd32"/>
<rect x="442" y="169" width="5" height="16" fill="#32cd32"/>
<rect x="452" y="178" width="1" height="12" fill="#32cd32"/>
<rect x="450" y="184" width="5" height="2" fill="#32cd32"/>
<rect x="460" y="147" width="1" height="40" fill="#ff0000"/>
<rect x="458" y="179" width="5" height="1" fill="#ff0000"/>
<rect x="468" y="152" width="1" height="45" fill="#32cd32"/>
<rect x="466" y="179" width="5" height="11" fill="#32cd32"/>
<rect x="476" y="169" width="1" height="38" fill="#ff0000"/>
<rect x="474" y="188" width="5" height="2" fill="#ff0000"/>
<rect x="484" y="94" width="1" height="96" fill="#ff0000"/>
<rect x="482" y="118" width="5" height="71" fill="#ff0000"/>
<rect x="483" y="119" width="3" height="69" fill="#ff4500"/>
<rect x="492" y="106" width="1" height="35" fill="#32cd32"/>
<rect x="490" y="118" width="5" height="9" fill="#32cd32"/>
<rect x="500" y="116" width="1" height="18" fill="#32cd32"/>
<rect x="498" y="126" width="5" height="1" fill="#32cd32"/>
<rect x="508" y="56" width="1" height="35" fill="#32cd32"/>
<rect x="506" y="80" width="5" height="5" fill="#32cd32"/>
<rect x="516" y="56" width="1" height="37" fill="#32cd32"/>
<rect x="514" y="83" width="5" height="4" fill="#32cd32"/>
<rect x="524" y="81" width="1" height="79" fill="#32cd32"/>
<rect x="522" y="86" width="5" height="67" fill="#32cd32"/>
<rect x="532" y="147" width="1" height="66" fill="#32cd32"/>
<rect x="530" y="152" width="5" height="45" fill="#32cd32"/>
<rect x="540" y="173" width="1" height="30" fill="#ff0000"/>
<rect x="538" y="192" width="5" height="5" fill="#ff0000"/>
<rect x="539" y="193" width="3" height="3" fill="#ff4500"/>
<rect x="548" y="189" width="1" height="19" fill="#32cd32"/>
<rect x="546" y="192" width="5" height="7" fill="#32cd32"/>
<rect x="556" y="185" width="1" height="38" fill="#32cd32"/>
<rect x="554" y="216" width="5" height="3" fill="#32cd32"/>
<rect x="564" y="186" width="1" height="36" fill="#ff0000"/>
<rect x="562" y="204" width="5" height="14" fill="#ff0000"/>
<rect x="563" y="205" width="3" height="12" fill="#ff4500"/>
<rect x="572" y="182" width="1" height="31" fill="#ff0000"/>
<rect x="570" y="185" width="5" height="20" fill="#ff0000"/>
<rect x="571" y="186" width="3" height="18" fill="#ff4500"/>
<rect x="580" y="170" width="1" height="29" fill="#32cd32"/>
<rect x="578" y="185" width="5" height="1" fill="#32cd32"/>
<rect x="588" y="178" width="1" height="66" fill="#32cd32"/>
<rect x="586" y="184" width="5" height="45" fill="#32cd32"/>
<rect x="596" y="220" width="1" height="9" fill="#ff0000"/>
<rect x="594" y="222" width="5" height="7" fill="#ff0000"/>
<rect x="595" y="223" width="3" height="5" fill="#ff4500"/>
<rect x="604" y="217" width="1" height="14" fill="#ff0000"/>
<rect x="602" y="220" width="5" height="7" fill="#ff0000"/>
<rect x="603" y="221" width="3" height="5" fill="#ff4500"/>
<rect x="612" y="203" width="1" height="26" fill="#32cd32"/>
<rect x="610" y="220" width="5" height="8" fill="#32cd32"/>
<rect x="620" y="205" width="1" height="28" fill="#ff0000"/>
<rect x="618" y="224" width="5" height="4" fill="#ff0000"/>
<rect x="619" y="225" width="3" height="2" fill="#ff4500"/>
<rect x="628" y="219" width="1" height="76" fill="#32cd32"/>
<rect x="626" y="224" width="5" height="52" fill="#32cd32"/>
<rect x="636" y="264" width="1" height="41" fill="#32cd32"/>
<rect x="634" y="275" width="5" height="24" fill="#32cd32"/>
<rect x="644" y="296" width="1" height="33" fill="#32cd32"/>
<rect x="642" y="298" width="5" height="28" fill="#32cd32"/>
<rect x="652" y="307" width="1" height="25" fill="#ff0000"/>
<rect x="650" y="323" width="5" height="9" fill="#ff0000"/>
<rect x="651" y="324" width="3" height="7" fill="#ff4500"/>
<rect x="660" y="315" width="1" height="18" fill="#32cd32"/>
<rect x="658" y="323" width="5" height="8" fill="#32cd32"/>
<rect x="668" y="309" width="1" height="27" fill="#ff0000"/>
<rect x="666" y="319" width="5" height="12" fill="#ff0000"/>
<rect x="667" y="320" width="3" height="10" fill="#ff4500"/>
<rect x="676" y="300" width="1" height="48" fill="#32cd32"/>
<rect x="674" y="319" width="5" height="22" fill="#32cd32"/>
<rect x="684" y="307" width="1" height="41" fill="#ff0000"/>
<rect x="682" y="331" width="5" height="10" fill="#ff0000"/>
<rect x="683" y="332" width="3" height="8" fill="#ff4500"/>
<rect x="692" y="322" width="1" height="12" fill="#ff0000"/>
<rect x="690" y="324" width="5" height="8" fill="#ff0000"/>
<rect x="691" y="325" width="3" height="6" fill="#ff4500"/>
<rect x="700" y="305" width="1" height="26" fill="#32cd32"/>
<rect x="698" y="327" width="5" height="3" fill="#32cd32"/>
<rect x="708" y="317" width="1" height="19" fill="#32cd32"/>
<rect x="706" y="330" width="5" height="2" fill="#32cd32"/>
<rect x="716" y="322" width="1" height="53" fill="#32cd32"/>
<rect x="714" y="327" width="5" height="36" fill="#32cd32"/>
<rect x="724" y="352" width="1" height="139" fill="#32cd32"/>
<rect x="722" y="361" width="5" height="2" fill="#32cd32"/>
<rect x="732" y="279" width="1" height="91" fill="#ff0000"/>
<rect x="730" y="279" width="5" height="84" fill="#ff0000"/>
<rect x="731" y="280" width="3" height="82" fill="#ff4500"/>
<rect x="740" y="264" width="1" height="24" fill="#ff0000"/>
<rect x="738" y="270" width="5" height="10" fill="#ff0000"/>
<rect x="739" y="271" width="3" height="8" fill="#ff4500"/>
<rect x="748" y="251" width="1" height="22" fill="#ff0000"/>
<rect x="746" y="254" width="5" height="17" fill="#ff0000"/>
<rect x="747" y="255" width="3" height="15" fill="#ff4500"/>
<rect x="756" y="244" width="1" height="27" fill="#32cd32"/>
<rect x="754" y="254" width="5" height="8" fill="#32cd32"/>
<rect x="764" y="210" width="1" height="53" fill="#ff0000"/>
<rect x="762" y="232" width="5" height="30" fill="#ff0000"/>
<rect x="763" y="233" width="3" height="28" fill="#ff4500"/>
<rect x="772" y="207" width="1" height="41" fill="#ff0000"/>
<rect x="770" y="212" width="5" height="21" fill="#ff0000"/>
<rect x="771" y="213" width="3" height="19" fill="#ff4500"/>
<rect x="780" y="178" width="1" height="50" fill="#ff0000"/>
<rect x="778" y="205" width="5" height="8" fill="#ff0000"/>
<rect x="779" y="206" width="3" height="6" fill="#ff4500"/>
<rect x="788" y="197" width="1" height="12" fill="#ff0000"/>
<rect x="786" y="200" width="5" height="6" fill="#ff0000"/>
<rect x="787" y="201" width="3" height="4" fill="#ff4500"/>
<rect x="796" y="192" width="1" height="33" fill="#32cd32"/>
<rect x="794" y="198" width="5" height="4" fill="#32cd32"/>
<rect x="804" y="185" width="1" height="32" fill="#32cd32"/>
<rect x="802" y="201" width="5" height="3" fill="#32cd32"/>
<rect x="812" y="196" width="1" height="40" fill="#32cd32"/>
<rect x="810" y="202" width="5" height="20" fill="#32cd32"/>
<rect x="820" y="215" width="1" height="33" fill="#32cd32"/>
<rect x="818" y="220" width="5" height="19" fill="#32cd32"/>
<rect x="828" y="189" width="1" height="50" fill="#ff0000"/>
<rect x="826" y="218" width="5" height="20" fill="#ff0000"/>
<rect x="827" y="219" width="3" height="18" fill="#ff4500"/>
<rect x="836" y="216" width="1" height="17" fill="#32cd32"/>
<rect x="834" y="218" width="5" height="13" fill="#32cd32"/>
<rect x="844" y="220" width="1" height="33" fill="#32cd32"/>
<rect x="842" y="235" width="5" height="7" fill="#32cd32"/>
<rect x="852" y="236" width="1" height="32" fill="#32cd32"/>
<rect x="850" y="241" width="5" height="15" fill="#32cd32"/>
<rect x="860" y="249" width="1" height="23" fill="#32cd32"/>
<rect x="858" y="254" width="5" height="5" fill="#32cd32"/>
<rect x="868" y="231" width="1" height="65" fill="#32cd32"/>
<rect x="866" y="258" width="5" height="23" fill="#32cd32"/>
<rect x="876" y="224" width="1" height="78" fill="#ff0000"/>
<rect x="874" y="232" width="5" height="49" fill="#ff0000"/>
<rect x="875" y="233" width="3" height="47" fill="#ff4500"/>
<rect x="884" y="218" width="1" height="15" fill="#ff0000"/>
<rect x="882" y="222" width="5" height="11" fill="#ff0000"/>
<rect x="883" y="223" width="3" height="9" fill="#ff4500"/>
<rect x="892" y="202" width="1" height="33" fill="#32cd32"/>
<rect x="890" y="221" width="5" height="11" fill="#32cd32"/>
<rect x="900" y="224" width="1" height="31" fill="#32cd32"/>
<rect x="898" y="231" width="5" height="14" fill="#32cd32"/>
<rect x="908" y="216" width="1" height="32" fill="#ff0000"/>
<rect x="906" y="216" width="5" height="30" fill="#ff0000"/>
<rect x="907" y="217" width="3" height="28" fill="#ff4500"/>
</g>
<g shape-rendering="crispEdges">
<rect x="571" y="169" width="445" height="2" fill="#f92020"/>
<rect x="627" y="292" width="377" height="2" fill="#8cc800"/>
<rect x="630" y="362" width="384" height="2" fill="#2589e4"/>
<rect x="1156" y="211" width="41" height="11" fill="#000"/>
</g>
<path clip-path="url(#cs)" d="M4 553h13v1h-13zM17 552h4v1h-4zM21 553h2v1h-2zM23 554h2v1h-2zM25 555h2v1h-2zM27 556h5v1h-5zM32 557h9v1h-9zM41 556h4v1h-4zM45 557h1v1h-1zM46 558h1v1h-1zM47 559h1v1h-1zM48 560h2v1h-2zM50 561h1v1h-1zM51 562h1v1h-1zM52 563h2v1h-2zM54 562h3v1h-3zM57 561h2v1h-2zM59 560h3v1h-3zM62 561h4v1h-4zM66 562h11v1h-11zM77 563h2v1h-2zM79 564h2v1h-2zM81 565h2v1h-2zM83 566h2v1h-2zM85 567h1v1h-1zM86 568h1v1h-1zM87 569h1v1h-1zM88 570h1v1h-1zM89 571h1v1h-1zM90 572h1v1h-1zM91 573h1v1h-1zM92 574h1v1h-1zM93 575h1v1h-1zM94 576h2v1h-2zM96 577h1v1h-1zM97 578h1v1h-1zM98 579h2v1h-2zM100 580h2v1h-2zM102 581h4v1h-4zM106 582h7v1h-7zM113 581h5v1h-5zM118 580h3v1h-3zM121 579h2v1h-2zM123 578h2v1h-2zM125 577h2v1h-2zM127 576h2v1h-2zM129 575h1v1h-1zM130 574h2v1h-2zM132 573h5v1h-5zM137 572h5v1h-5zM142 571h3v1h-3zM145 570h2v1h-2zM147 569h6v1h-6zM153 568h5v1h-5zM158 569h4v1h-4zM162 570h3v1h-3zM165 569h1v1h-1zM166 568h1v1h-1zM167 567h1v1h-1zM168 566h1v1h-1zM169 565h1v1h-1zM170 564h1v1h-1zM171 563h1v1h-1zM172 562h4v1h-4zM176 563h8v1h-8zM184 564h6v1h-6zM190 565h2v1h-2zM192 566h3v1h-3zM195 567h3v1h-3zM198 566h2v1h-2zM200 565h2v1h-2zM202 564h2v1h-2zM204 563h2v1h-2zM206 564h2v1h-2zM208 565h3v1h-3zM211 566h2v1h-2zM213 567h2v1h-2zM215 568h1v1h-1zM216 569h2v1h-2zM218 570h2v1h-2zM220 571h2v1h-2zM222 572h4v1h-4zM226 573h12v1h-12zM238 572h3v1h-3zM241 571h2v1h-2zM243 570h12v1h-12zM255 569h4v1h-4zM259 568h3v1h-3zM262 569h2v1h-2zM264 570h3v1h-3zM267 571h2v1h-2zM269 570h1v1h-1zM270 568h1v2h-1zM271 567h1v1h-1zM272 566h1v1h-1zM273 565h1v1h-1zM274 563h1v2h-1zM275 562h1v1h-1zM276 561h1v1h-1zM277 562h2v1h-2zM279 563h1v1h-1zM280 564h2v1h-2zM282 565h2v1h-2zM284 565h1v2h-1zM285 563h1v2h-1zM286 561h1v2h-1zM287 559h1v2h-1zM288 556h1v3h-1zM289 554h1v2h-1zM290 552h1v2h-1zM291 550h1v2h-1zM292 548h1v2h-1zM293 548h2v1h-2zM295 547h4v1h-4zM299 546h3v1h-3zM302 547h4v1h-4zM306 548h5v1h-5zM311 547h4v1h-4zM315 546h3v1h-3zM318 545h3v1h-3zM321 544h2v1h-2zM323 543h2v1h-2zM325 542h2v1h-2zM327 541h1v1h-1zM328 540h1v1h-1zM329 539h2v1h-2zM331 538h1v1h-1zM332 537h5v1h-5zM337 536h4v1h-4zM341 537h1v1h-1zM342 538h1v1h-1zM343 539h1v1h-1zM344 540h1v2h-1zM345 542h1v1h-1zM346 543h1v1h-1zM347 544h1v1h-1zM348 545h1v1h-1zM349 546h2v1h-2zM351 547h1v1h-1zM352 548h2v1h-2zM354 549h2v1h-2zM356 550h1v1h-1zM357 551h2v1h-2zM359 552h2v1h-2zM361 553h2v1h-2zM363 554h12v1h-12zM375 553h4v1h-4zM379 552h2v1h-2zM381 551h2v1h-2zM383 550h1v1h-1zM384 549h1v1h-1zM385 548h2v1h-2zM387 547h1v1h-1zM388 546h1v1h-1zM389 545h2v1h-2zM391 544h1v1h-1zM392 543h1v1h-1zM393 542h2v1h-2zM395 541h1v1h-1zM396 540h3v1h-3zM399 539h4v1h-4zM403 538h2v1h-2zM405 539h1v1h-1zM406 540h2v1h-2zM408 541h1v1h-1zM409 542h1v1h-1zM410 543h2v1h-2zM412 544h1v1h-1zM413 545h1v1h-1zM414 546h1v1h-1zM415 547h1v1h-1zM416 548h1v1h-1zM417 549h1v1h-1zM418 550h1v1h-1zM419 551h1v1h-1zM420 552h10v1h-10zM430 553h4v1h-4zM434 554h3v1h-3zM437 555h2v1h-2zM439 556h2v1h-2zM441 557h2v1h-2zM443 558h14v1h-14zM457 557h5v1h-5zM462 558h4v1h-4zM466 559h11v1h-11zM477 557h1v2h-1zM478 555h1v2h-1zM479 553h1v2h-1zM480 552h1v1h-1zM481 550h1v2h-1zM482 548h1v2h-1zM483 546h1v2h-1zM484 545h2v1h-2zM486 546h4v1h-4zM490 547h11v1h-11zM501 546h1v1h-1zM502 545h1v1h-1zM503 544h2v1h-2zM505 543h1v1h-1zM506 542h1v1h-1zM507 541h1v1h-1zM508 540h4v1h-4zM512 541h5v1h-5zM517 542h1v2h-1zM518 544h1v2h-1zM519 546h1v2h-1zM520 548h1v2h-1zM521 550h1v2h-1zM522 552h1v2h-1zM523 554h1v2h-1zM524 556h1v1h-1zM525 557h1v1h-1zM526 558h1v1h-1zM527 559h1v1h-1zM528 560h1v2h-1zM529 562h1v1h-1zM530 563h1v1h-1zM531 564h1v1h-1zM532 565h5v1h-5zM537 564h7v1h-7zM544 565h6v1h-6zM550 566h2v1h-2zM552 567h3v1h-3zM555 568h3v1h-3zM558 567h3v1h-3zM561 566h2v1h-2zM563 565h3v1h-3zM566 564h2v1h-2zM568 563h2v1h-2zM570 562h2v1h-2zM572 561h9v1h-9zM581 562h1v1h-1zM582 563h1v1h-1zM583 564h1v1h-1zM584 565h1v1h-1zM585 566h1v1h-1zM586 567h1v1h-1zM587 568h1v1h-1zM588 569h5v1h-5zM593 568h8v1h-8zM601 567h7v1h-7zM608 568h9v1h-9zM617 567h4v1h-4zM621 568h1v1h-1zM622 569h1v1h-1zM623 570h1v1h-1zM624 571h1v2h-1zM625 573h1v1h-1zM626 574h1v1h-1zM627 575h1v1h-1zM628 576h1v1h-1zM629 577h2v1h-2zM631 578h2v1h-2zM633 579h2v1h-2zM635 580h3v1h-3zM638 581h2v1h-2zM640 582h3v1h-3zM643 583h6v1h-6zM649 582h7v1h-7zM656 583h6v1h-6zM662 582h2v1h-2zM664 581h2v1h-2zM666 580h2v1h-2zM668 579h2v1h-2zM670 580h2v1h-2zM672 581h3v1h-3zM675 582h3v1h-3zM678 581h3v1h-3zM681 580h2v1h-2zM683 579h4v1h-4zM687 578h4v1h-4zM691 577h5v1h-5zM696 578h13v1h-13zM709 579h2v1h-2zM711 580h1v1h-1zM712 581h2v1h-2zM714 582h2v1h-2zM716 583h8v1h-8zM724 582h1v2h-1zM725 579h1v3h-1zM726 576h1v3h-1zM727 573h1v3h-1zM728 570h1v3h-1zM729 567h1v3h-1zM730 564h1v3h-1zM731 561h1v3h-1zM732 559h1v2h-1zM733 559h2v1h-2zM735 558h4v1h-4zM739 557h3v1h-3zM742 556h3v1h-3zM745 555h2v1h-2zM747 554h3v1h-3zM750 555h4v1h-4zM754 556h3v1h-3zM757 555h2v1h-2zM759 554h1v1h-1zM760 553h1v1h-1zM761 552h2v1h-2zM763 551h1v1h-1zM764 550h2v1h-2zM766 549h3v1h-3zM769 548h2v1h-2zM771 547h6v1h-6zM777 546h8v1h-8zM785 545h15v1h-15zM800 546h5v1h-5zM805 547h2v1h-2zM807 548h1v1h-1zM808 549h2v1h-2zM810 550h2v1h-2zM812 551h1v1h-1zM813 552h2v1h-2zM815 553h1v1h-1zM816 554h2v1h-2zM818 555h2v1h-2zM820 556h2v1h-2zM822 555h2v1h-2zM824 554h2v1h-2zM826 553h2v1h-2zM828 552h2v1h-2zM830 553h2v1h-2zM832 554h3v1h-3zM835 555h3v1h-3zM838 556h2v1h-2zM840 557h3v1h-3zM843 558h2v1h-2zM845 559h2v1h-2zM847 560h2v1h-2zM849 561h2v1h-2zM851 562h5v1h-5zM856 563h5v1h-5zM861 564h2v1h-2zM863 565h1v1h-1zM864 566h2v1h-2zM866 567h2v1h-2zM868 568h1v1h-1zM869 566h1v2h-1zM870 564h1v2h-1zM871 563h1v1h-1zM872 561h1v2h-1zM873 560h1v1h-1zM874 558h1v2h-1zM875 556h1v2h-1zM876 555h3v1h-3zM879 554h4v1h-4zM883 553h3v1h-3zM886 554h4v1h-4zM890 555h3v1h-3zM893 556h2v1h-2zM895 557h2v1h-2zM897 558h2v1h-2zM899 559h2v1h-2zM901 558h2v1h-2zM903 557h2v1h-2zM905 556h1v1h-1zM906 555h2v1h-2z" fill="#1e90ff" shape-rendering="crispEdges"/>
<g style="filter:grayscale(1)">
<text x="3.3" y="20" font-size="10" fill="#3a3a3a" stroke="#3a3a3a" textLength="18.2" lengthAdjust="spacingAndGlyphs" style="stroke-width:0">M30</text>
<text x="34.1" y="20" font-size="10" fill="#3a3a3a" stroke="#3a3a3a" textLength="12.3" lengthAdjust="spacingAndGlyphs" style="stroke-width:0">H1</text>
<text x="61.2" y="20" font-size="10" fill="#3a3a3a" stroke="#3a3a3a" textLength="13.0" lengthAdjust="spacingAndGlyphs" style="stroke-width:0">H4</text>
<text x="89.7" y="20" font-size="10" fill="#3a3a3a" stroke="#3a3a3a" textLength="13.1" lengthAdjust="spacingAndGlyphs" style="stroke-width:0">D1</text>
<text x="117.5" y="20" font-size="10" fill="#3a3a3a" stroke="#3a3a3a" textLength="15.3" lengthAdjust="spacingAndGlyphs" style="stroke-width:0">W1</text>
<text x="144.2" y="20" font-size="10" fill="#3a3a3a" stroke="#3a3a3a" textLength="15.7" lengthAdjust="spacingAndGlyphs" style="stroke-width:0">MN</text>
</g>
<path d="M7 39h7l-3.5 4z" fill="#000" shape-rendering="crispEdges"/>
<text x="19.3" y="44" font-size="10" fill="#000" stroke="#000" textLength="65.8" lengthAdjust="spacingAndGlyphs">AUDUSD,Daily</text>
<text x="90.8" y="44" font-size="10" fill="#000" stroke="#000" textLength="141.1" lengthAdjust="spacingAndGlyphs">0.71486 0.71858 0.71457 0.71851</text>
<text x="1159.7" y="41" font-size="10" fill="#000" stroke="#000" textLength="33.3" lengthAdjust="spacingAndGlyphs">0.74160</text>
<text x="1159.7" y="74" font-size="10" fill="#000" stroke="#000" textLength="33.3" lengthAdjust="spacingAndGlyphs">0.73740</text>
<text x="1159.7" y="107" font-size="10" fill="#000" stroke="#000" textLength="33.3" lengthAdjust="spacingAndGlyphs">0.73310</text>
<text x="1159.7" y="140" font-size="10" fill="#000" stroke="#000" textLength="33.3" lengthAdjust="spacingAndGlyphs">0.72890</text>
<text x="1159.7" y="173" font-size="10" fill="#000" stroke="#000" textLength="33.3" lengthAdjust="spacingAndGlyphs">0.72460</text>
<text x="1159.7" y="206" font-size="10" fill="#000" stroke="#000" textLength="33.3" lengthAdjust="spacingAndGlyphs">0.72030</text>
<text x="1159.7" y="239" font-size="10" fill="#000" stroke="#000" textLength="33.3" lengthAdjust="spacingAndGlyphs">0.71610</text>
<text x="1159.7" y="272" font-size="10" fill="#000" stroke="#000" textLength="33.3" lengthAdjust="spacingAndGlyphs">0.71180</text>
<text x="1159.7" y="305" font-size="10" fill="#000" stroke="#000" textLength="33.3" lengthAdjust="spacingAndGlyphs">0.70750</text>
<text x="1159.7" y="338" font-size="10" fill="#000" stroke="#000" textLength="33.3" lengthAdjust="spacingAndGlyphs">0.70330</text>
<text x="1159.7" y="371" font-size="10" fill="#000" stroke="#000" textLength="33.3" lengthAdjust="spacingAndGlyphs">0.69900</text>
<text x="1159.7" y="404" font-size="10" fill="#000" stroke="#000" textLength="33.3" lengthAdjust="spacingAndGlyphs">0.69480</text>
<text x="1159.7" y="437" font-size="10" fill="#000" stroke="#000" textLength="33.3" lengthAdjust="spacingAndGlyphs">0.69050</text>
<text x="1159.7" y="470" font-size="10" fill="#000" stroke="#000" textLength="33.3" lengthAdjust="spacingAndGlyphs">0.68630</text>
<text x="1159.7" y="503" font-size="10" fill="#000" stroke="#000" textLength="33.3" lengthAdjust="spacingAndGlyphs">0.68200</text>
<text x="1159.7" y="220" font-size="10" fill="#fff" stroke="#fff" textLength="33.3" lengthAdjust="spacingAndGlyphs">0.71851</text>
<text x="8" y="517" font-size="10" fill="#000" stroke="#000" textLength="68.2" lengthAdjust="spacingAndGlyphs">RSI(14) 56.0635</text>
<text x="1158" y="515" font-size="10" fill="#000" stroke="#000" textLength="15.3" lengthAdjust="spacingAndGlyphs">100</text>
<text x="1157.2" y="542" font-size="10" fill="#000" stroke="#000" textLength="10.2" lengthAdjust="spacingAndGlyphs">70</text>
<text x="1157.2" y="584" font-size="10" fill="#000" stroke="#000" textLength="10.2" lengthAdjust="spacingAndGlyphs">30</text>
<text x="1157.6" y="610" font-size="10" fill="#000" stroke="#000" textLength="5.6" lengthAdjust="spacingAndGlyphs">0</text>
<text transform="translate(2.7,626) scale(0.926,1)" font-size="10" fill="#000" stroke="#000">20 Sep 2018</text>
<text transform="translate(66.7,626) scale(0.926,1)" font-size="10" fill="#000" stroke="#000">29 Sep 2018</text>
<text transform="translate(130.7,626) scale(0.926,1)" font-size="10" fill="#000" stroke="#000">9 Oct 2018</text>
<text transform="translate(194.7,626) scale(0.926,1)" font-size="10" fill="#000" stroke="#000">18 Oct 2018</text>
<text transform="translate(258.7,626) scale(0.926,1)" font-size="10" fill="#000" stroke="#000">27 Oct 2018</text>
<text transform="translate(322.7,626) scale(0.926,1)" font-size="10" fill="#000" stroke="#000">6 Nov 2018</text>
<text transform="translate(386.7,626) scale(0.926,1)" font-size="10" fill="#000" stroke="#000">15 Nov 2018</text>
<text transform="translate(450.7,626) scale(0.926,1)" font-size="10" fill="#000" stroke="#000">24 Nov 2018</text>
<text transform="translate(514.7,626) scale(0.926,1)" font-size="10" fill="#000" stroke="#000">4 Dec 2018</text>
<text transform="translate(578.7,626) scale(0.926,1)" font-size="10" fill="#000" stroke="#000">13 Dec 2018</text>
<text transform="translate(642.7,626) scale(0.926,1)" font-size="10" fill="#000" stroke="#000">22 Dec 2018</text>
<text transform="translate(706.7,626) scale(0.926,1)" font-size="10" fill="#000" stroke="#000">1 Jan 2019</text>
<text transform="translate(770.7,626) scale(0.926,1)" font-size="10" fill="#000" stroke="#000">10 Jan 2019</text>
<text transform="translate(834.7,626) scale(0.926,1)" font-size="10" fill="#000" stroke="#000">19 Jan 2019</text>
<text transform="translate(898.7,626) scale(0.926,1)" font-size="10" fill="#000" stroke="#000">29 Jan 2019</text>
<g shape-rendering="crispEdges">
<rect x="0" y="634" width="1197" height="1" fill="#e6e6e6"/>
<rect x="0" y="635" width="1197" height="24" fill="#f0f0f0"/>
<rect x="0" y="656" width="1197" height="1" fill="#fbfbfb"/>
<rect x="0" y="636" width="111" height="1" fill="#000"/>
<rect x="212" y="636" width="985" height="1" fill="#000"/>
<rect x="0" y="636" width="1" height="19" fill="#000"/>
<rect x="110" y="636" width="103" height="19" fill="#fff"/>
<rect x="110" y="636" width="1" height="19" fill="#000"/>
<rect x="212" y="636" width="1" height="19" fill="#000"/>
<rect x="110" y="654" width="103" height="1" fill="#000"/>
<rect x="313" y="639" width="1" height="14" fill="#666666"/>
<rect x="417" y="639" width="1" height="14" fill="#666666"/>
<rect x="521" y="639" width="1" height="14" fill="#666666"/>
<rect x="617" y="639" width="1" height="14" fill="#666666"/>
<rect x="709" y="639" width="1" height="14" fill="#666666"/>
<rect x="813" y="639" width="1" height="14" fill="#666666"/>
<rect x="901" y="639" width="1" height="14" fill="#666666"/>
<rect x="1005" y="639" width="1" height="14" fill="#666666"/>
<rect x="1073" y="639" width="1" height="14" fill="#666666"/>
</g>
<text x="16.9" y="651" font-size="12.5" fill="#6e6e6e" stroke="#6e6e6e" textLength="80.2" lengthAdjust="spacingAndGlyphs" style="stroke-width:0">EURUSD,Daily</text>
<text x="119.7" y="651" font-size="12.5" fill="#000" stroke="#000" textLength="82.7" lengthAdjust="spacingAndGlyphs" style="stroke-width:0.1px">AUDUSD,Daily</text>
<text x="224.0" y="651" font-size="12.5" fill="#6e6e6e" stroke="#6e6e6e" textLength="76.9" lengthAdjust="spacingAndGlyphs" style="stroke-width:0">USDCHF,M30</text>
<text x="323.8" y="651" font-size="12.5" fill="#6e6e6e" stroke="#6e6e6e" textLength="81.4" lengthAdjust="spacingAndGlyphs" style="stroke-width:0">USDCAD,Daily</text>
<text x="426.8" y="651" font-size="12.5" fill="#6e6e6e" stroke="#6e6e6e" textLength="84.1" lengthAdjust="spacingAndGlyphs" style="stroke-width:0">USDCNH,Daily</text>
<text x="530.4" y="651" font-size="12.5" fill="#6e6e6e" stroke="#6e6e6e" textLength="76.2" lengthAdjust="spacingAndGlyphs" style="stroke-width:0">USDJPY,Daily</text>
<text x="627.8" y="651" font-size="12.5" fill="#6e6e6e" stroke="#6e6e6e" textLength="69.1" lengthAdjust="spacingAndGlyphs" style="stroke-width:0">XAUUSD,H1</text>
<text x="721.6" y="651" font-size="12.5" fill="#6e6e6e" stroke="#6e6e6e" textLength="80.0" lengthAdjust="spacingAndGlyphs" style="stroke-width:0">GBPUSD,Daily</text>
<text x="824.8" y="651" font-size="12.5" fill="#6e6e6e" stroke="#6e6e6e" textLength="64.1" lengthAdjust="spacingAndGlyphs" style="stroke-width:0">SP500,M15</text>
<text x="912.6" y="651" font-size="12.5" fill="#6e6e6e" stroke="#6e6e6e" textLength="81.0" lengthAdjust="spacingAndGlyphs" style="stroke-width:0">GBPUSD,Daily</text>
<text x="1014.9" y="651" font-size="12.5" fill="#6e6e6e" stroke="#6e6e6e" textLength="47.0" lengthAdjust="spacingAndGlyphs" style="stroke-width:0">DJ30,H4</text>
<text x="1082.6" y="651" font-size="12.5" fill="#6e6e6e" stroke="#6e6e6e" textLength="71.7" lengthAdjust="spacingAndGlyphs" style="stroke-width:0">TECH100,H1</text>
<path d="M1173.5 642.2v6.6l-3.8-3.3z" fill="#a0a0a0"/>
<path d="M1188.6 642v7l3.8-3.5z" fill="#000"/>
</svg></body></html>
